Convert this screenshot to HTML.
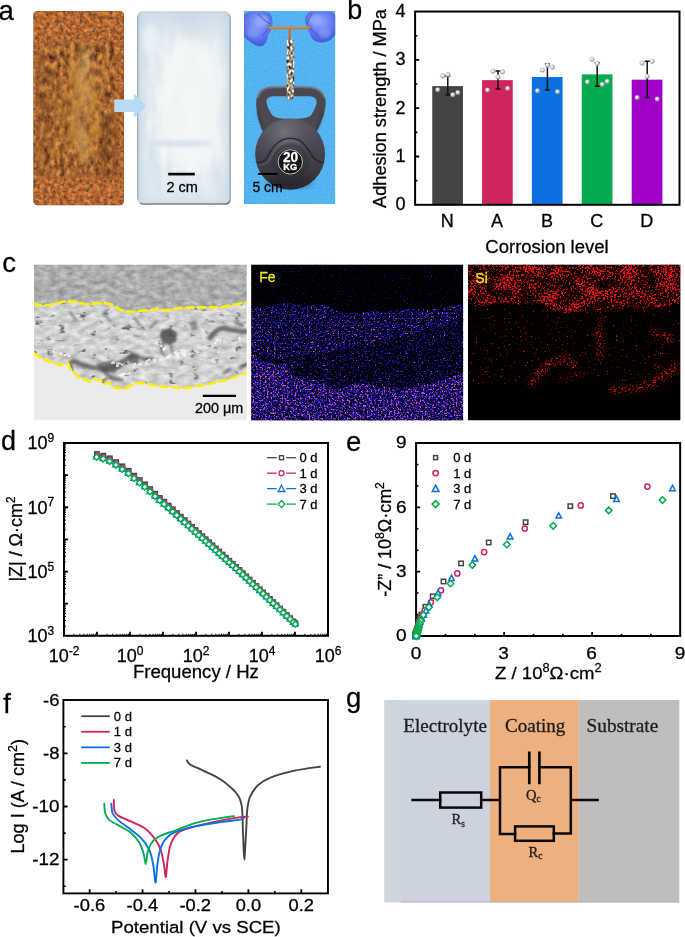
<!DOCTYPE html>
<html><head><meta charset="utf-8"><title>figure</title>
<style>
html,body{margin:0;padding:0;background:#fff;}
body{width:685px;height:937px;overflow:hidden;font-family:"Liberation Sans",sans-serif;}
svg{display:block;font-family:"Liberation Sans",sans-serif;}
svg text{stroke-width:0.28px;}
svg text:not([fill]){stroke:#000;}
</style></head><body>
<svg width="685" height="937" viewBox="0 0 685 937" style="opacity:0.999">
<defs>
<filter id="rustE" x="0" y="0" width="1" height="1" color-interpolation-filters="sRGB">
<feTurbulence type="fractalNoise" baseFrequency="0.25" numOctaves="3" seed="3" result="n1"/>
<feColorMatrix in="n1" type="matrix" values="0.55 0 0 0 0.46  0.50 0 0 0 0.17  0.30 0 0 0 0.045  0 0 0 0 1" result="c1"/>
<feTurbulence type="fractalNoise" baseFrequency="0.30" numOctaves="2" seed="8" result="n2"/>
<feColorMatrix in="n2" type="matrix" values="0 0 0 0 0.36  0 0 0 0 0.30  0 0 0 0 0.26  0 6 0 0 -3.42" result="spk"/>
<feComposite in="spk" in2="c1" operator="over" result="m"/>
<feComposite in="m" in2="SourceGraphic" operator="in"/>
</filter>
<filter id="rustI" x="-0.1" y="-0.1" width="1.2" height="1.2" color-interpolation-filters="sRGB">
<feTurbulence type="fractalNoise" baseFrequency="0.2 0.13" numOctaves="5" seed="5" result="n1"/>
<feColorMatrix in="n1" type="matrix" values="0.95 0 0 0 0.15  0.74 0 0 0 0.015  0.32 0 0 0 0.035  0 0 0 0 1" result="c1"/>
<feTurbulence type="fractalNoise" baseFrequency="0.09 0.05" numOctaves="3" seed="31" result="n2"/>
<feColorMatrix in="n2" type="matrix" values="0 0 0 0 0.78  0 0 0 0 0.52  0 0 0 0 0.20  3 0 0 0 -1.68" result="y1"/>
<feColorMatrix in="n2" type="matrix" values="0 0 0 0 0.45  0 0 0 0 0.27  0 0 0 0 0.13  0 3 0 0 -1.78" result="d1"/>
<feMerge result="mm"><feMergeNode in="c1"/><feMergeNode in="y1"/><feMergeNode in="d1"/></feMerge>
<feGaussianBlur in="SourceAlpha" stdDeviation="2.2" result="sa"/>
<feComposite in="mm" in2="sa" operator="in"/>
</filter>
<filter id="b3"><feGaussianBlur stdDeviation="3"/></filter>
<filter id="b6"><feGaussianBlur stdDeviation="6"/></filter>
<filter id="b2"><feGaussianBlur stdDeviation="2"/></filter>
<filter id="b1"><feGaussianBlur stdDeviation="1"/></filter>
<filter id="b05"><feGaussianBlur stdDeviation="0.5"/></filter>
<filter id="cloud" x="0" y="0" width="1" height="1" color-interpolation-filters="sRGB">
<feTurbulence type="fractalNoise" baseFrequency="0.08 0.022" numOctaves="4" seed="11" result="n1"/>
<feColorMatrix in="n1" type="matrix" values="0.34 0 0 0 0.75  0.25 0 0 0 0.82  0.16 0 0 0 0.875  0 0 0 0 1" result="c1"/>
<feComposite in="c1" in2="SourceGraphic" operator="in"/>
</filter>
<filter id="bgn" x="0" y="0" width="1" height="1" color-interpolation-filters="sRGB">
<feTurbulence type="fractalNoise" baseFrequency="0.7" numOctaves="1" seed="5" result="n1"/>
<feColorMatrix in="n1" type="matrix" values="0.16 0 0 0 0.25  0.12 0 0 0 0.645  0.07 0 0 0 0.905  0 0 0 0 1" result="c1"/>
<feComposite in="c1" in2="SourceGraphic" operator="in"/>
</filter>
<filter id="chn" x="0" y="0" width="1" height="1" color-interpolation-filters="sRGB">
<feTurbulence type="fractalNoise" baseFrequency="0.45 0.3" numOctaves="1" seed="2" result="n1"/>
<feColorMatrix in="n1" type="matrix" values="2.2 0 0 0 -0.45  2.15 0 0 0 -0.46  2.0 0 0 0 -0.45  0 0 0 0 1" result="c1"/>
<feComposite in="c1" in2="SourceGraphic" operator="in"/>
</filter>
<clipPath id="cpr"><rect x="33.4" y="11" width="90.6" height="194.2" rx="4.2"/></clipPath>
<clipPath id="cpw"><rect x="137.5" y="11.6" width="92" height="191.6" rx="4.6"/></clipPath>
<clipPath id="cpk"><rect x="244" y="11" width="91.2" height="193"/></clipPath>
<linearGradient id="kb" x1="0" y1="0" x2="0" y2="1"><stop offset="0" stop-color="#56525e"/><stop offset="0.4" stop-color="#494553"/><stop offset="0.75" stop-color="#3b3842"/><stop offset="1" stop-color="#2b2930"/></linearGradient>
<radialGradient id="kbh" cx="0.42" cy="0.2" r="0.5"><stop offset="0" stop-color="#7b7884" stop-opacity="0.85"/><stop offset="1" stop-color="#55525b" stop-opacity="0"/></radialGradient>
<radialGradient id="glv" cx="0.5" cy="0.35" r="0.65"><stop offset="0" stop-color="#8fa4fb"/><stop offset="0.55" stop-color="#647df0"/><stop offset="1" stop-color="#4258d8"/></radialGradient>
<linearGradient id="wpl" x1="0" y1="0" x2="0" y2="1"><stop offset="0" stop-color="#c6d5e4" stop-opacity="0.95"/><stop offset="0.17" stop-color="#dde7ef" stop-opacity="0.5"/><stop offset="0.45" stop-color="#f2f5f6" stop-opacity="0"/><stop offset="0.8" stop-color="#dfe9f0" stop-opacity="0.3"/><stop offset="1" stop-color="#d3e1ec" stop-opacity="0.9"/></linearGradient>
<linearGradient id="wpl2" x1="0" y1="0" x2="1" y2="0"><stop offset="0" stop-color="#c2d2e3" stop-opacity="0.85"/><stop offset="0.14" stop-color="#d8e3ec" stop-opacity="0.25"/><stop offset="0.5" stop-color="#fff" stop-opacity="0"/><stop offset="0.88" stop-color="#d8e3ec" stop-opacity="0.25"/><stop offset="1" stop-color="#c6d6e4" stop-opacity="0.8"/></linearGradient>
<radialGradient id="sph" cx="0.38" cy="0.35" r="0.7"><stop offset="0" stop-color="#ffffff"/><stop offset="0.45" stop-color="#dcdcdc"/><stop offset="1" stop-color="#8c8c8c"/></radialGradient>
<filter id="semtop" x="0" y="0" width="1" height="1" color-interpolation-filters="sRGB">
<feTurbulence type="fractalNoise" baseFrequency="0.12 0.2" numOctaves="3" seed="4" result="n"/>
<feColorMatrix in="n" type="matrix" values="0.36 0 0 0 0.50  0.36 0 0 0 0.50  0.36 0 0 0 0.50  0 0 0 0 1" result="c"/>
<feComposite in="c" in2="SourceGraphic" operator="in"/></filter>
<filter id="semmid" x="0" y="0" width="1" height="1" color-interpolation-filters="sRGB">
<feTurbulence type="fractalNoise" baseFrequency="0.1 0.2" numOctaves="4" seed="9" result="n"/>
<feColorMatrix in="n" type="matrix" values="0.34 0 0 0 0.65  0.34 0 0 0 0.65  0.34 0 0 0 0.65  0 0 0 0 1" result="c"/>
<feComposite in="c" in2="SourceGraphic" operator="in"/></filter>
<filter id="semdark" x="0" y="0" width="1" height="1" color-interpolation-filters="sRGB">
<feTurbulence type="fractalNoise" baseFrequency="0.09 0.16" numOctaves="3" seed="17" result="n"/>
<feColorMatrix in="n" type="matrix" values="0 0 0 0 0.42  0 0 0 0 0.42  0 0 0 0 0.42  6 0 0 0 -3.95" result="c"/>
<feComposite in="c" in2="SourceGraphic" operator="in"/></filter>
<clipPath id="csem"><rect x="34" y="264.6" width="212.8" height="155.9"/></clipPath>
<clipPath id="cmid"><polygon points="34,303.3 40.2,305.4 50.3,304.8 65.3,301.3 75.4,301.6 85.4,304.3 103,302.8 110.6,304.1 120.6,309.9 130.7,311.9 144.5,310.4 152.6,310.2 157.8,308.2 164.8,310.4 177.7,308.4 190.3,307.4 220.4,307.4 233,304.8 246.8,302.6 246.8,372.9 238,375.8 225.4,380.3 202.8,385.3 185.2,388.3 172,387.3 160.8,386.6 148.2,384 137,382.8 124.4,389.1 113,387.3 109.3,382.8 103,384 100.5,380.3 93,379 89.2,381.6 77.9,376.5 70.4,369 67.8,363.2 60.3,365.2 45.2,360.2 34,353.4"/></clipPath>
<filter id="fe0" x="0" y="0" width="1" height="1" color-interpolation-filters="sRGB"><feTurbulence type="fractalNoise" baseFrequency="0.55" numOctaves="2" seed="2" result="n"/><feColorMatrix in="n" type="matrix" values="0 0 0 0 0.11  0 0 0 0 0.09  0 0 0 0 0.80  7 0 0 0 -4.79" result="bl"/><feColorMatrix in="n" type="matrix" values="0 0 0 0 0.80  0 0 0 0 0.30  0 0 0 0 0.78  0 8 0 0 -6.56" result="pk"/><feMerge result="m"><feMergeNode in="bl"/><feMergeNode in="pk"/></feMerge><feComposite in="m" in2="SourceGraphic" operator="in"/></filter>
<filter id="fe1" x="0" y="0" width="1" height="1" color-interpolation-filters="sRGB"><feTurbulence type="fractalNoise" baseFrequency="0.55" numOctaves="2" seed="3" result="n"/><feColorMatrix in="n" type="matrix" values="0 0 0 0 0.11  0 0 0 0 0.09  0 0 0 0 0.80  5 0 0 0 -2.42" result="bl"/><feColorMatrix in="n" type="matrix" values="0 0 0 0 0.80  0 0 0 0 0.30  0 0 0 0 0.78  0 8 0 0 -5.12" result="pk"/><feMerge result="m"><feMergeNode in="bl"/><feMergeNode in="pk"/></feMerge><feComposite in="m" in2="SourceGraphic" operator="in"/></filter>
<filter id="fe2" x="0" y="0" width="1" height="1" color-interpolation-filters="sRGB"><feTurbulence type="fractalNoise" baseFrequency="0.55" numOctaves="2" seed="5" result="n"/><feColorMatrix in="n" type="matrix" values="0 0 0 0 0.11  0 0 0 0 0.09  0 0 0 0 0.80  5 0 0 0 -2.7" result="bl"/><feColorMatrix in="n" type="matrix" values="0 0 0 0 0.80  0 0 0 0 0.30  0 0 0 0 0.78  0 8 0 0 -5.6" result="pk"/><feMerge result="m"><feMergeNode in="bl"/><feMergeNode in="pk"/></feMerge><feComposite in="m" in2="SourceGraphic" operator="in"/></filter>
<filter id="fe3" x="0" y="0" width="1" height="1" color-interpolation-filters="sRGB"><feTurbulence type="fractalNoise" baseFrequency="0.55" numOctaves="2" seed="7" result="n"/><feColorMatrix in="n" type="matrix" values="0 0 0 0 0.11  0 0 0 0 0.09  0 0 0 0 0.80  5 0 0 0 -2.15" result="bl"/><feColorMatrix in="n" type="matrix" values="0 0 0 0 0.80  0 0 0 0 0.30  0 0 0 0 0.78  0 7 0 0 -3.85" result="pk"/><feMerge result="m"><feMergeNode in="bl"/><feMergeNode in="pk"/></feMerge><feComposite in="m" in2="SourceGraphic" operator="in"/></filter>
<clipPath id="cfe"><rect x="251.1" y="264.4" width="212.2" height="156.1"/></clipPath>
<filter id="si0" x="0" y="0" width="1" height="1" color-interpolation-filters="sRGB"><feTurbulence type="fractalNoise" baseFrequency="0.55" numOctaves="2" seed="12" result="n"/><feTurbulence type="fractalNoise" baseFrequency="0.05 0.09" numOctaves="2" seed="52" result="lo"/><feColorMatrix in="n" type="matrix" values="1 0 0 0 0  0 0 0 0 0  0 0 0 0 0  0 0 0 0 1" result="na"/><feColorMatrix in="lo" type="matrix" values="1 0 0 0 0  0 0 0 0 0  0 0 0 0 0  0 0 0 0 1" result="loa"/><feComposite in="na" in2="loa" operator="arithmetic" k1="0" k2="1" k3="0.42" k4="-0.21" result="n2"/><feColorMatrix in="n2" type="matrix" values="0 0 0 0 0.92  0 0 0 0 0.06  0 0 0 0 0.07  7 0 0 0 -3.57" result="r"/><feComposite in="r" in2="SourceGraphic" operator="in"/></filter>
<filter id="si1" x="0" y="0" width="1" height="1" color-interpolation-filters="sRGB"><feTurbulence type="fractalNoise" baseFrequency="0.55" numOctaves="2" seed="14" result="n"/><feColorMatrix in="n" type="matrix" values="0 0 0 0 0.92  0 0 0 0 0.06  0 0 0 0 0.07  10 0 0 0 -7.05" result="r"/><feComposite in="r" in2="SourceGraphic" operator="in"/></filter>
<filter id="si2" x="0" y="0" width="1" height="1" color-interpolation-filters="sRGB"><feTurbulence type="fractalNoise" baseFrequency="0.55" numOctaves="2" seed="19" result="n"/><feColorMatrix in="n" type="matrix" values="0 0 0 0 0.92  0 0 0 0 0.06  0 0 0 0 0.07  11 0 0 0 -5.89" result="r"/><feComposite in="r" in2="SourceGraphic" operator="in"/></filter>
<clipPath id="csi"><rect x="467.8" y="264.4" width="212.8" height="156.1"/></clipPath>
<mask id="msi"><rect x="460" y="260" width="230" height="170" fill="#000"/><g filter="url(#b2)" fill="none" stroke="#fff" stroke-linecap="round">
<path d="M531 383C538 370 552 359 566 359L573 366" stroke-width="7"/><path d="M599 331C600 342 601 350 600 357" stroke-width="6"/>
<path d="M612 390C628 392 650 386 662 378C668 374 672 370 675 366" stroke-width="6.5"/><path d="M654 332C660 333 666 336 672 340" stroke-width="7"/>
<path d="M655 366L664 374" stroke-width="4"/><path d="M600 312V326" stroke-width="4"/><path d="M560 378L590 372" stroke-width="3" opacity="0.6"/></g></mask>
</defs>
<g id="pa">
<text x="-1.4" y="19.8" font-size="27.5">a</text>
<rect x="33.4" y="11" width="90.6" height="194.2" rx="4.2" fill="#b87034" filter="url(#rustE)"/>
<g clip-path="url(#cpr)">
<rect x="38.2" y="42" width="78.6" height="135" fill="#a2662c" filter="url(#rustI)"/>
<ellipse cx="80" cy="112" rx="17" ry="54" fill="#c48432" opacity="0.38" filter="url(#b6)"/>
<ellipse cx="86" cy="80" rx="8" ry="28" fill="#d8b070" opacity="0.25" filter="url(#b3)"/>
<rect x="100" y="112" width="18" height="66" fill="#6a3e1e" opacity="0.30" filter="url(#b3)"/>
<rect x="37" y="60" width="14" height="110" fill="#7e4820" opacity="0.25" filter="url(#b3)"/>
<g filter="url(#b2)" fill="none" stroke-linecap="round">
<path d="M84 46L80 75L86 100L82 130L86 165" stroke="#d2b27c" stroke-width="5" opacity="0.28"/>
<path d="M92 50L84 72" stroke="#e0d0b0" stroke-width="3" opacity="0.35"/>
<path d="M70 60L80 90L74 120L78 150" stroke="#c99648" stroke-width="8" opacity="0.4"/>
<path d="M98 70L92 100L100 118L90 140" stroke="#c99040" stroke-width="7" opacity="0.4"/>
<path d="M52 150L60 120L54 90" stroke="#b87a34" stroke-width="8" opacity="0.35"/>
<path d="M80 125L86 150" stroke="#d8c090" stroke-width="4" opacity="0.3"/>
</g>
<rect x="33.4" y="11" width="90.6" height="194.2" rx="4.2" fill="none" stroke="#7a4a26" stroke-width="1.2" opacity="0.45"/>
</g>
<rect x="138.4" y="12.8" width="92.2" height="192" rx="4.8" fill="#55595f" opacity="0.8" filter="url(#b05)"/>
<rect x="137.5" y="11.6" width="92" height="191.6" rx="4.6" fill="#e3ebf0" filter="url(#cloud)"/>
<g clip-path="url(#cpw)">
<rect x="137.5" y="11.6" width="92" height="191.6" fill="url(#wpl)"/>
<rect x="137.5" y="11.6" width="92" height="191.6" fill="url(#wpl2)"/>
<ellipse cx="190" cy="105" rx="32" ry="66" fill="#f4f7f7" opacity="0.85" filter="url(#b6)"/>
<ellipse cx="182" cy="143.5" rx="30" ry="3" fill="#bccadb" opacity="0.55" filter="url(#b2)"/>
<ellipse cx="150" cy="40" rx="8" ry="14" fill="#f2f6f8" opacity="0.6" filter="url(#b3)"/>
<rect x="137.5" y="11.6" width="92" height="191.6" rx="4.6" fill="none" stroke="#aab6c2" stroke-width="1" opacity="0.7"/>
</g>
<line x1="137.7" y1="15.5" x2="137.7" y2="199.5" stroke="#6e757d" stroke-width="0.9" opacity="0.65"/>
<path d="M114.3 99.5H133.8V93.6L146.6 105.7L133.8 117.8V111.9H114.3Z" fill="#b7dbf5"/>
<line x1="168.2" y1="174.1" x2="194.8" y2="174.1" stroke="#000" stroke-width="2.7"/>
<text x="182.2" y="192.2" font-size="14.5" text-anchor="middle">2 cm</text>
<rect x="244" y="11" width="91.2" height="193" fill="#58b3ec" filter="url(#bgn)"/>
<g clip-path="url(#cpk)">
<path d="M243 17 C245 13 249 11.5 254 11.3 L266 11.5 C270.5 12.5 272.8 17 272.3 22 C273 27 271 31 268.5 34 C267.5 39 265.5 44 262.5 46 C258 47.5 252 44 248 40 C245 38.5 243.5 36 243 34Z" fill="url(#glv)" filter="url(#b05)"/>
<path d="M336 16 C334 13 331 11.5 327 11.3 L312 11.5 C307 12.5 304.6 17 305.4 21 C305.6 26 307.5 30 309.6 32.5 C310.5 37 313 40.5 317 41.8 C322 43.5 329 42 333 37.5 L336 34Z" fill="url(#glv)" filter="url(#b05)"/>
<ellipse cx="262" cy="21" rx="6.5" ry="5.5" fill="#96abfc" opacity="0.75" filter="url(#b1)"/>
<ellipse cx="253" cy="33" rx="6" ry="5" fill="#8aa0fa" opacity="0.55" filter="url(#b1)"/>
<ellipse cx="315" cy="20" rx="6.5" ry="5.5" fill="#96abfc" opacity="0.75" filter="url(#b1)"/>
<ellipse cx="325" cy="33" rx="6" ry="5" fill="#8aa0fa" opacity="0.5" filter="url(#b1)"/>
<path d="M258 14 C262 18 266 22 270 24 M262 36 C266 32 268 28 270 26 M312 14 C310 18 308 21 307 24 M320 38 C316 34 312 30 309 27" fill="none" stroke="#3346c4" stroke-width="1.1" opacity="0.55" filter="url(#b05)"/>
<path d="M268.9 27.9H309.1M289.7 28V39" fill="none" stroke="#b97a42" stroke-width="2.7" stroke-linecap="round"/>
<path d="M269.5 27.2H308.5" fill="none" stroke="#dca468" stroke-width="0.8"/>
<rect x="286.6" y="39.4" width="7.6" height="60" rx="2" fill="#cfc2a6" filter="url(#chn)"/>
<path fill-rule="evenodd" d="M263.4 133 C258 120 255.6 110 256.3 101 C256.8 94 261 88.5 268 87.2 C275 86.3 283 86.4 290.5 86.4 C298 86.4 305 86.3 311.5 87.2 C319 88.6 324.5 93 325.6 100 C326.4 108 323 119 317 131Z M272.8 115.8 C276 118.2 282 118.9 291.5 118.9 C301 118.9 307 118.2 310.7 115.8 C314.5 110 317 104.5 316.6 101 C316 97.5 313 96.3 308 96.2 L274 96.2 C269.5 96.3 266.8 97.8 266.5 101 C266.3 105 269 110.5 272.8 115.8Z" fill="#4b4851"/>
<path d="M257.5 98 C259 91 264 88 270 87.4 C277 86.8 284 86.9 290.5 86.9 C297 86.9 304 86.8 311 87.4 C318 88.5 323 92 324.6 98" fill="none" stroke="#807d88" stroke-width="2.2" opacity="0.75" filter="url(#b05)"/>
<path d="M258 112 C259 118 261 124 264 130 M322.5 112 C321.5 118 319.5 124 316.5 130" fill="none" stroke="#2f2d34" stroke-width="2.5" opacity="0.5" filter="url(#b1)"/>
<ellipse cx="290.1" cy="154.1" rx="35.0" ry="35.7" fill="url(#kb)"/>
<ellipse cx="290.1" cy="154.1" rx="35.0" ry="35.7" fill="url(#kbh)"/>
<path d="M257.5 162.6 C261 162.6 265 162 267.5 157 C271 149 276 142.5 283 139.5 C288 137.8 294 137.9 299 140.2 C305 143.5 308.5 150 312 155.5 C315 160 319 162.6 323.5 162.6" fill="none" stroke="#26242a" stroke-width="1.6" opacity="0.8" filter="url(#b05)"/>
<path d="M259 165 C263 165 267.5 164 270 159 C274 151 278.5 145 285 142 C290 140.5 295 141 299.5 143.5" fill="none" stroke="#77747f" stroke-width="1.2" opacity="0.5" filter="url(#b05)"/>
<ellipse cx="290" cy="182" rx="22" ry="6" fill="#222026" opacity="0.5" filter="url(#b3)"/>
<circle cx="290.2" cy="162" r="16.5" fill="none" stroke="#2c2a31" stroke-width="3" opacity="0.55" filter="url(#b1)"/>
<rect x="286.8" y="84" width="7" height="15.6" rx="2" fill="#cfc2a6" filter="url(#chn)"/>
<circle cx="290.3" cy="161.9" r="13.1" fill="#141416"/>
<circle cx="290.3" cy="161.9" r="12.2" fill="none" stroke="#ececec" stroke-width="0.85"/>
<text x="290.5" y="162.3" font-size="14" text-anchor="middle" textLength="15.2" lengthAdjust="spacingAndGlyphs" font-weight="bold" fill="#fff" stroke="#fff">20</text>
<text x="290.3" y="170.2" font-size="8.3" text-anchor="middle" textLength="14" lengthAdjust="spacingAndGlyphs" font-weight="bold" fill="#fff" stroke="#fff">KG</text>
</g>
<line x1="257.9" y1="173.9" x2="277.6" y2="173.9" stroke="#000" stroke-width="2"/>
<text x="252.4" y="191.9" font-size="14">5 cm</text>
</g>
<g id="pb">
<text x="347.2" y="18.9" font-size="27">b</text>
<rect x="432.25" y="86.1" width="30.7" height="118.7" fill="#454344"/>
<rect x="482.05" y="80.15" width="30.7" height="124.65" fill="#d0245c"/>
<rect x="531.85" y="77.01" width="30.7" height="127.79" fill="#0b70e2"/>
<rect x="581.75" y="74.36" width="30.7" height="130.44" fill="#05ab51"/>
<rect x="631.7" y="79.67" width="30.7" height="125.13" fill="#a002c9"/>
<path d="M447.8 76V95M445.3 76h5M445.3 95h5" fill="none" stroke="#111" stroke-width="1.5"/>
<path d="M498 70.9V88.9M495.5 70.9h5M495.5 88.9h5" fill="none" stroke="#111" stroke-width="1.5"/>
<path d="M547.4 64V90M544.9 64h5M544.9 90h5" fill="none" stroke="#111" stroke-width="1.5"/>
<path d="M597.2 62.8V86.2M594.7 62.8h5M594.7 86.2h5" fill="none" stroke="#111" stroke-width="1.5"/>
<path d="M647.2 61.3V97.5M644.7 61.3h5M644.7 97.5h5" fill="none" stroke="#111" stroke-width="1.5"/>
<circle cx="437.7" cy="89.7" r="2.3" fill="url(#sph)" stroke="#9a9a9a" stroke-width="0.4"/>
<circle cx="442.7" cy="75.9" r="2.3" fill="url(#sph)" stroke="#9a9a9a" stroke-width="0.4"/>
<circle cx="448" cy="74.6" r="2.3" fill="url(#sph)" stroke="#9a9a9a" stroke-width="0.4"/>
<circle cx="452.8" cy="94.7" r="2.3" fill="url(#sph)" stroke="#9a9a9a" stroke-width="0.4"/>
<circle cx="457.8" cy="92.5" r="2.3" fill="url(#sph)" stroke="#9a9a9a" stroke-width="0.4"/>
<circle cx="487.5" cy="90" r="2.3" fill="url(#sph)" stroke="#9a9a9a" stroke-width="0.4"/>
<circle cx="493" cy="71.1" r="2.3" fill="url(#sph)" stroke="#9a9a9a" stroke-width="0.4"/>
<circle cx="498" cy="76.9" r="2.3" fill="url(#sph)" stroke="#9a9a9a" stroke-width="0.4"/>
<circle cx="502.5" cy="71.9" r="2.3" fill="url(#sph)" stroke="#9a9a9a" stroke-width="0.4"/>
<circle cx="507.6" cy="88.4" r="2.3" fill="url(#sph)" stroke="#9a9a9a" stroke-width="0.4"/>
<circle cx="537.4" cy="90.7" r="2.3" fill="url(#sph)" stroke="#9a9a9a" stroke-width="0.4"/>
<circle cx="542.4" cy="70.1" r="2.3" fill="url(#sph)" stroke="#9a9a9a" stroke-width="0.4"/>
<circle cx="547.4" cy="65.3" r="2.3" fill="url(#sph)" stroke="#9a9a9a" stroke-width="0.4"/>
<circle cx="552.4" cy="67.1" r="2.3" fill="url(#sph)" stroke="#9a9a9a" stroke-width="0.4"/>
<circle cx="557.5" cy="91.7" r="2.3" fill="url(#sph)" stroke="#9a9a9a" stroke-width="0.4"/>
<circle cx="587.4" cy="81.9" r="2.3" fill="url(#sph)" stroke="#9a9a9a" stroke-width="0.4"/>
<circle cx="592.1" cy="59.3" r="2.3" fill="url(#sph)" stroke="#9a9a9a" stroke-width="0.4"/>
<circle cx="597.2" cy="63.6" r="2.3" fill="url(#sph)" stroke="#9a9a9a" stroke-width="0.4"/>
<circle cx="602.2" cy="84.4" r="2.3" fill="url(#sph)" stroke="#9a9a9a" stroke-width="0.4"/>
<circle cx="607.2" cy="81.4" r="2.3" fill="url(#sph)" stroke="#9a9a9a" stroke-width="0.4"/>
<circle cx="637.1" cy="97.5" r="2.3" fill="url(#sph)" stroke="#9a9a9a" stroke-width="0.4"/>
<circle cx="642.1" cy="63.1" r="2.3" fill="url(#sph)" stroke="#9a9a9a" stroke-width="0.4"/>
<circle cx="647.2" cy="76.4" r="2.3" fill="url(#sph)" stroke="#9a9a9a" stroke-width="0.4"/>
<circle cx="652.2" cy="61.3" r="2.3" fill="url(#sph)" stroke="#9a9a9a" stroke-width="0.4"/>
<circle cx="657.2" cy="99" r="2.3" fill="url(#sph)" stroke="#9a9a9a" stroke-width="0.4"/>
<rect x="415.1" y="11.55" width="264.4" height="193.25" fill="none" stroke="#000" stroke-width="2"/>
<path d="M415.1 156.49 l4.1 0M415.1 108.18 l4.1 0M415.1 59.86 l4.1 0" fill="none" stroke="#000" stroke-width="1.8"/>
<path d="M415.1 180.64 l2.3 0M415.1 132.33 l2.3 0M415.1 84.02 l2.3 0M415.1 35.71 l2.3 0" fill="none" stroke="#000" stroke-width="1.6"/>
<text x="405.4" y="210.4" font-size="18" text-anchor="end">0</text>
<text x="405.4" y="162.09" font-size="18" text-anchor="end">1</text>
<text x="405.4" y="113.78" font-size="18" text-anchor="end">2</text>
<text x="405.4" y="65.46" font-size="18" text-anchor="end">3</text>
<text x="405.4" y="17.15" font-size="18" text-anchor="end">4</text>
<text x="447.3" y="226.7" font-size="18" text-anchor="middle">N</text>
<text x="497.1" y="226.7" font-size="18" text-anchor="middle">A</text>
<text x="546.9" y="226.7" font-size="18" text-anchor="middle">B</text>
<text x="596.8" y="226.7" font-size="18" text-anchor="middle">C</text>
<text x="646.75" y="226.7" font-size="18" text-anchor="middle">D</text>
<text x="547" y="252.9" font-size="18.6" text-anchor="middle" textLength="123.3" lengthAdjust="spacingAndGlyphs">Corrosion level</text>
<text transform="translate(386.3 108.5) rotate(-90)" font-size="18.7" text-anchor="middle" textLength="198.8" lengthAdjust="spacingAndGlyphs">Adhesion strength / MPa</text>
</g>
<g id="pc">
<text x="2.2" y="272.2" font-size="27.5">c</text>
<g clip-path="url(#csem)">
<rect x="34" y="264.6" width="212.8" height="155.9" fill="#ebebeb"/>
<polygon points="34,303.3 40.2,305.4 50.3,304.8 65.3,301.3 75.4,301.6 85.4,304.3 103,302.8 110.6,304.1 120.6,309.9 130.7,311.9 144.5,310.4 152.6,310.2 157.8,308.2 164.8,310.4 177.7,308.4 190.3,307.4 220.4,307.4 233,304.8 246.8,302.6 246.8,264.6 34,264.6" fill="#a6a6a6" filter="url(#semtop)"/>
<g clip-path="url(#cmid)">
<rect x="34" y="296" width="212.8" height="96" fill="#d0d0d0" filter="url(#semmid)"/>
<rect x="34" y="296" width="212.8" height="96" fill="#555" filter="url(#semdark)"/>
<g filter="url(#b1)" fill="#505050" stroke="#505050" stroke-linecap="round" stroke-linejoin="round">
<path d="M162 331L170 329L176 333L175 341L170 344L163 342L161 336Z" stroke-width="2" opacity="0.85"/>
<path d="M163 344L161 352L165 356M171 346L172 352" fill="none" stroke-width="2.4" opacity="0.6"/>
<path d="M73 361C84 366 98 370 110 368C118 366 124 360 130 357" fill="none" stroke-width="5" opacity="0.75"/>
<path d="M98 364L112 362L122 366L114 372L102 371Z" stroke-width="2" opacity="0.7"/>
<path d="M130 357C138 354 144 362 152 358" fill="none" stroke-width="4" opacity="0.6"/>
<path d="M131 353L138 356L137 364L130 362Z" stroke-width="2" opacity="0.7"/>
<path d="M104 372L112 378L122 380" fill="none" stroke-width="3.5" opacity="0.65"/>
<path d="M210 338C214 332 219 328 224 328C232 330 240 333 247 331" fill="none" stroke-width="5" opacity="0.75"/>
<path d="M236 322L242 325" fill="none" stroke-width="4" opacity="0.6"/>
<path d="M190 322L196 321L197 329L192 330Z" stroke-width="1.5" opacity="0.55"/>
<path d="M224 373L230 369M240 368L247 364" fill="none" stroke-width="3.5" opacity="0.6"/>
<path d="M70 312L76 320M104 314L110 321M134 318L140 325M150 328L156 322" fill="none" stroke-width="2.6" opacity="0.55"/>
<path d="M70 362L72 371" fill="none" stroke-width="3" opacity="0.7"/>
</g>
<g fill="#f9f9f9" opacity="0.9"><circle cx="141.29" cy="364.01" r="0.76"/><circle cx="149.15" cy="359.94" r="1.11"/><circle cx="132.97" cy="363.98" r="0.77"/><circle cx="147.32" cy="361.1" r="0.88"/><circle cx="154.5" cy="361.29" r="1.02"/><circle cx="162.4" cy="359.62" r="0.93"/><circle cx="135.23" cy="364.08" r="1.35"/><circle cx="138.29" cy="365.11" r="1"/><circle cx="148.33" cy="359.86" r="0.86"/><circle cx="154.16" cy="359.81" r="1.17"/><circle cx="146.15" cy="363.55" r="1.26"/><circle cx="140.35" cy="364.15" r="1.4"/><circle cx="155.22" cy="362.09" r="0.79"/><circle cx="146.83" cy="361.26" r="1.09"/><circle cx="133.97" cy="366.74" r="1.16"/><circle cx="160.15" cy="359.78" r="1.18"/><circle cx="185.16" cy="354.45" r="1.46"/><circle cx="182.12" cy="352.8" r="1.26"/><circle cx="189.23" cy="353.85" r="0.93"/><circle cx="179.04" cy="353.39" r="1.07"/><circle cx="169.66" cy="355.24" r="1.31"/><circle cx="168.72" cy="356.62" r="1.4"/><circle cx="167.66" cy="357.51" r="1.41"/><circle cx="194.84" cy="350.74" r="1.03"/><circle cx="178.79" cy="356.59" r="0.82"/><circle cx="170.31" cy="355.74" r="1.09"/><circle cx="184.86" cy="351.7" r="1.04"/><circle cx="178.14" cy="356.5" r="1.25"/><circle cx="183.42" cy="354.44" r="0.74"/><circle cx="197.38" cy="352" r="1.34"/><circle cx="118.74" cy="363.52" r="1.21"/><circle cx="111.74" cy="363.19" r="0.83"/><circle cx="116.69" cy="363.08" r="0.82"/><circle cx="113.39" cy="362.68" r="1.4"/><circle cx="121.93" cy="364.44" r="0.98"/><circle cx="117.35" cy="365.84" r="1.49"/><circle cx="120.34" cy="363.61" r="0.78"/><circle cx="117.41" cy="365.74" r="0.83"/><circle cx="119.38" cy="375.02" r="0.82"/><circle cx="123.93" cy="373.98" r="1.48"/><circle cx="129.69" cy="372.7" r="0.99"/><circle cx="120.82" cy="374.74" r="1.32"/><circle cx="121.62" cy="375.09" r="1.49"/><circle cx="176.99" cy="353.52" r="1.29"/><circle cx="165.71" cy="347.72" r="0.72"/><circle cx="161.48" cy="346.11" r="1.25"/><circle cx="177.07" cy="354.66" r="1.49"/><circle cx="176.68" cy="351.5" r="0.88"/><circle cx="163.85" cy="348.73" r="1.42"/><circle cx="175.36" cy="352.72" r="1.34"/><circle cx="164.06" cy="349.31" r="1.33"/><circle cx="68.95" cy="355.73" r="1.33"/><circle cx="64.71" cy="355.13" r="1.02"/><circle cx="65.89" cy="354.95" r="0.84"/><circle cx="60.69" cy="353.73" r="1.35"/><circle cx="215.36" cy="342.86" r="1.23"/><circle cx="220.66" cy="339.49" r="0.71"/><circle cx="239.58" cy="338.2" r="1.45"/><circle cx="224.13" cy="341.24" r="0.87"/><circle cx="216.93" cy="340.21" r="1.17"/><circle cx="217.54" cy="339.86" r="1.43"/><circle cx="220.49" cy="340.83" r="1.42"/></g>
<path d="M190 312L226 311" fill="none" stroke="#f8f8f8" stroke-width="1.3" opacity="0.4"/>
</g>
<polyline points="34,303.3 40.2,305.4 50.3,304.8 65.3,301.3 75.4,301.6 85.4,304.3 103,302.8 110.6,304.1 120.6,309.9 130.7,311.9 144.5,310.4 152.6,310.2 157.8,308.2 164.8,310.4 177.7,308.4 190.3,307.4 220.4,307.4 233,304.8 246.8,302.6" fill="none" stroke="#fdf005" stroke-width="2.6" stroke-dasharray="7.4 4.6" stroke-linecap="round" stroke-linejoin="round"/>
<polyline points="34,353.4 45.2,360.2 60.3,365.2 67.8,363.2 70.4,369 77.9,376.5 89.2,381.6 93,379 100.5,380.3 103,384 109.3,382.8 113,387.3 124.4,389.1 137,382.8 148.2,384 160.8,386.6 172,387.3 185.2,388.3 202.8,385.3 225.4,380.3 238,375.8 246.8,372.9" fill="none" stroke="#fdf005" stroke-width="2.6" stroke-dasharray="7.4 4.6" stroke-linecap="round" stroke-linejoin="round"/>
</g>
<line x1="202.8" y1="395.9" x2="236" y2="395.9" stroke="#000" stroke-width="2.4"/>
<text x="219.2" y="413.2" font-size="14.4" text-anchor="middle">200 μm</text>
<g clip-path="url(#cfe)">
<rect x="251.1" y="264.4" width="212.2" height="156.1" fill="#010104"/>
<rect x="251.1" y="264.4" width="212.2" height="44" fill="#000" filter="url(#fe0)"/>
<polygon points="251.1,304.8 257.3,306.9 267.4,306.3 282.4,302.8 292.5,303.1 302.5,305.8 320.1,304.3 327.7,305.6 337.7,311.4 347.8,313.4 361.6,311.9 369.7,311.7 374.9,309.7 381.9,311.9 394.8,309.9 407.4,308.9 437.5,308.9 450.1,306.3 463.9,304.1 463.9,322 447.1,326 427.1,331 407.1,336 385.1,340 357.1,346 330.1,352 307.1,355 281.1,358 267.1,357 251.1,351" fill="#000" filter="url(#fe1)"/>
<polygon points="251.1,351 267.1,357 281.1,358 307.1,355 330.1,352 357.1,346 385.1,340 407.1,336 427.1,331 447.1,326 463.9,322 463.9,372.9 455.1,375.8 442.5,380.3 419.9,385.3 402.3,388.3 389.1,387.3 377.9,386.6 365.3,384 354.1,382.8 341.5,389.1 330.1,387.3 326.4,382.8 320.1,384 317.6,380.3 310.1,379 306.3,381.6 295,376.5 287.5,369 284.9,363.2 277.4,365.2 262.3,360.2 251.1,353.4" fill="#000" filter="url(#fe2)"/>
<polygon points="251.1,353.4 262.3,360.2 277.4,365.2 284.9,363.2 287.5,369 295,376.5 306.3,381.6 310.1,379 317.6,380.3 320.1,384 326.4,382.8 330.1,387.3 341.5,389.1 354.1,382.8 365.3,384 377.9,386.6 389.1,387.3 402.3,388.3 419.9,385.3 442.5,380.3 455.1,375.8 463.9,372.9 463.3,421 251.1,421" fill="#000" filter="url(#fe3)"/>
</g>
<text x="259.3" y="282.3" font-size="14" fill="#f2ea14" stroke="#f2ea14">Fe</text>
<g clip-path="url(#csi)">
<rect x="467.8" y="264.4" width="212.8" height="156.1" fill="#030000"/>
<polygon points="680.6,303.6 666.8,305.8 654.2,308.4 624.1,308.4 611.5,309.4 598.6,311.4 591.6,309.2 586.4,311.2 578.3,311.4 564.5,312.9 554.4,310.9 544.4,305.1 536.8,303.8 519.2,305.3 509.2,302.6 499.1,302.3 484.1,305.8 474,306.4 467.8,304.3 467.8,264.4 680.6,264.4" fill="#000" filter="url(#si0)"/>
<rect x="467.8" y="306" width="212.8" height="78" fill="#000" filter="url(#si1)"/>
<rect x="467.8" y="300" width="212.8" height="110" fill="#000" filter="url(#si2)" mask="url(#msi)"/>
</g>
<text x="475.3" y="282.6" font-size="14" fill="#f2ea14" stroke="#f2ea14">Si</text>
</g>
<g id="pd">
<text x="1" y="450" font-size="27">d</text>
<polyline points="96.9,453.9 103.39,455.67 109.89,458.25 116.18,462.02 122.47,466.29 128.67,470.66 134.26,475.62 139.75,479.98 145.05,484.24 150.24,489 155.24,493.66 159.83,497.91 164.33,501.66 168.62,505.51 172.82,509.26 176.92,512.98 180.89,516.6 184.75,520.11 188.48,523.51 192.1,526.8 195.6,529.98 198.97,533.05 202.35,536.12 205.72,539.19 209.1,542.26 212.48,545.33 215.85,548.41 219.23,551.48 222.61,554.55 225.98,557.62 229.36,560.69 232.74,563.76 236.11,566.83 239.49,569.91 242.87,573.1 246.24,576.32 249.62,579.53 252.99,582.75 256.37,585.97 259.75,589.18 263.12,592.4 266.5,595.62 269.88,598.83 273.25,602.05 276.63,605.27 280.01,608.48 283.38,611.7 286.76,614.92 290.14,618.13 293.51,621.35 295.39,623.14" fill="none" stroke="#454344" stroke-width="1.2"/>
<rect x="94.8" y="451.8" width="4.2" height="4.2" fill="#fff" stroke="#454344" stroke-width="1.5"/><rect x="101.29" y="453.57" width="4.2" height="4.2" fill="#fff" stroke="#454344" stroke-width="1.5"/><rect x="107.79" y="456.15" width="4.2" height="4.2" fill="#fff" stroke="#454344" stroke-width="1.5"/><rect x="114.08" y="459.92" width="4.2" height="4.2" fill="#fff" stroke="#454344" stroke-width="1.5"/><rect x="120.37" y="464.19" width="4.2" height="4.2" fill="#fff" stroke="#454344" stroke-width="1.5"/><rect x="126.57" y="468.56" width="4.2" height="4.2" fill="#fff" stroke="#454344" stroke-width="1.5"/><rect x="132.16" y="473.52" width="4.2" height="4.2" fill="#fff" stroke="#454344" stroke-width="1.5"/><rect x="137.65" y="477.88" width="4.2" height="4.2" fill="#fff" stroke="#454344" stroke-width="1.5"/><rect x="142.95" y="482.14" width="4.2" height="4.2" fill="#fff" stroke="#454344" stroke-width="1.5"/><rect x="148.14" y="486.9" width="4.2" height="4.2" fill="#fff" stroke="#454344" stroke-width="1.5"/><rect x="153.14" y="491.56" width="4.2" height="4.2" fill="#fff" stroke="#454344" stroke-width="1.5"/><rect x="157.73" y="495.81" width="4.2" height="4.2" fill="#fff" stroke="#454344" stroke-width="1.5"/><rect x="162.23" y="499.56" width="4.2" height="4.2" fill="#fff" stroke="#454344" stroke-width="1.5"/><rect x="166.52" y="503.41" width="4.2" height="4.2" fill="#fff" stroke="#454344" stroke-width="1.5"/><rect x="170.72" y="507.16" width="4.2" height="4.2" fill="#fff" stroke="#454344" stroke-width="1.5"/><rect x="174.82" y="510.88" width="4.2" height="4.2" fill="#fff" stroke="#454344" stroke-width="1.5"/><rect x="178.79" y="514.5" width="4.2" height="4.2" fill="#fff" stroke="#454344" stroke-width="1.5"/><rect x="182.65" y="518.01" width="4.2" height="4.2" fill="#fff" stroke="#454344" stroke-width="1.5"/><rect x="186.38" y="521.41" width="4.2" height="4.2" fill="#fff" stroke="#454344" stroke-width="1.5"/><rect x="190" y="524.7" width="4.2" height="4.2" fill="#fff" stroke="#454344" stroke-width="1.5"/><rect x="193.5" y="527.88" width="4.2" height="4.2" fill="#fff" stroke="#454344" stroke-width="1.5"/><rect x="196.87" y="530.95" width="4.2" height="4.2" fill="#fff" stroke="#454344" stroke-width="1.5"/><rect x="200.25" y="534.02" width="4.2" height="4.2" fill="#fff" stroke="#454344" stroke-width="1.5"/><rect x="203.62" y="537.09" width="4.2" height="4.2" fill="#fff" stroke="#454344" stroke-width="1.5"/><rect x="207" y="540.16" width="4.2" height="4.2" fill="#fff" stroke="#454344" stroke-width="1.5"/><rect x="210.38" y="543.23" width="4.2" height="4.2" fill="#fff" stroke="#454344" stroke-width="1.5"/><rect x="213.75" y="546.31" width="4.2" height="4.2" fill="#fff" stroke="#454344" stroke-width="1.5"/><rect x="217.13" y="549.38" width="4.2" height="4.2" fill="#fff" stroke="#454344" stroke-width="1.5"/><rect x="220.51" y="552.45" width="4.2" height="4.2" fill="#fff" stroke="#454344" stroke-width="1.5"/><rect x="223.88" y="555.52" width="4.2" height="4.2" fill="#fff" stroke="#454344" stroke-width="1.5"/><rect x="227.26" y="558.59" width="4.2" height="4.2" fill="#fff" stroke="#454344" stroke-width="1.5"/><rect x="230.64" y="561.66" width="4.2" height="4.2" fill="#fff" stroke="#454344" stroke-width="1.5"/><rect x="234.01" y="564.73" width="4.2" height="4.2" fill="#fff" stroke="#454344" stroke-width="1.5"/><rect x="237.39" y="567.81" width="4.2" height="4.2" fill="#fff" stroke="#454344" stroke-width="1.5"/><rect x="240.77" y="571" width="4.2" height="4.2" fill="#fff" stroke="#454344" stroke-width="1.5"/><rect x="244.14" y="574.22" width="4.2" height="4.2" fill="#fff" stroke="#454344" stroke-width="1.5"/><rect x="247.52" y="577.43" width="4.2" height="4.2" fill="#fff" stroke="#454344" stroke-width="1.5"/><rect x="250.89" y="580.65" width="4.2" height="4.2" fill="#fff" stroke="#454344" stroke-width="1.5"/><rect x="254.27" y="583.87" width="4.2" height="4.2" fill="#fff" stroke="#454344" stroke-width="1.5"/><rect x="257.65" y="587.08" width="4.2" height="4.2" fill="#fff" stroke="#454344" stroke-width="1.5"/><rect x="261.02" y="590.3" width="4.2" height="4.2" fill="#fff" stroke="#454344" stroke-width="1.5"/><rect x="264.4" y="593.52" width="4.2" height="4.2" fill="#fff" stroke="#454344" stroke-width="1.5"/><rect x="267.78" y="596.73" width="4.2" height="4.2" fill="#fff" stroke="#454344" stroke-width="1.5"/><rect x="271.15" y="599.95" width="4.2" height="4.2" fill="#fff" stroke="#454344" stroke-width="1.5"/><rect x="274.53" y="603.17" width="4.2" height="4.2" fill="#fff" stroke="#454344" stroke-width="1.5"/><rect x="277.91" y="606.38" width="4.2" height="4.2" fill="#fff" stroke="#454344" stroke-width="1.5"/><rect x="281.28" y="609.6" width="4.2" height="4.2" fill="#fff" stroke="#454344" stroke-width="1.5"/><rect x="284.66" y="612.82" width="4.2" height="4.2" fill="#fff" stroke="#454344" stroke-width="1.5"/><rect x="288.04" y="616.03" width="4.2" height="4.2" fill="#fff" stroke="#454344" stroke-width="1.5"/><rect x="291.41" y="619.25" width="4.2" height="4.2" fill="#fff" stroke="#454344" stroke-width="1.5"/><rect x="293.29" y="621.04" width="4.2" height="4.2" fill="#fff" stroke="#454344" stroke-width="1.5"/>
<polyline points="97.1,455.4 103.59,457.14 110.08,459.68 116.37,463.42 122.65,467.65 128.84,471.99 134.43,476.92 139.92,481.26 145.22,485.49 150.41,490.22 155.4,494.85 159.99,499.08 164.48,502.8 168.77,506.63 172.97,510.36 177.06,514.06 181.03,517.66 184.89,521.14 188.62,524.52 192.23,527.79 195.73,530.95 199.1,534.01 202.47,537.06 205.85,540.12 209.22,543.17 212.6,546.22 215.97,549.28 219.34,552.33 222.72,555.38 226.09,558.44 229.47,561.49 232.84,564.54 236.21,567.6 239.59,570.65 242.96,573.83 246.34,577.03 249.71,580.22 253.08,583.42 256.46,586.62 259.83,589.82 263.21,593.02 266.58,596.22 269.95,599.42 273.33,602.62 276.7,605.82 280.08,609.02 283.45,612.21 286.83,615.41 290.2,618.61 293.57,621.81 295.45,623.59" fill="none" stroke="#d0245c" stroke-width="1.2"/>
<circle cx="97.1" cy="455.4" r="2.3" fill="#fff" stroke="#d0245c" stroke-width="1.5"/><circle cx="103.59" cy="457.14" r="2.3" fill="#fff" stroke="#d0245c" stroke-width="1.5"/><circle cx="110.08" cy="459.68" r="2.3" fill="#fff" stroke="#d0245c" stroke-width="1.5"/><circle cx="116.37" cy="463.42" r="2.3" fill="#fff" stroke="#d0245c" stroke-width="1.5"/><circle cx="122.65" cy="467.65" r="2.3" fill="#fff" stroke="#d0245c" stroke-width="1.5"/><circle cx="128.84" cy="471.99" r="2.3" fill="#fff" stroke="#d0245c" stroke-width="1.5"/><circle cx="134.43" cy="476.92" r="2.3" fill="#fff" stroke="#d0245c" stroke-width="1.5"/><circle cx="139.92" cy="481.26" r="2.3" fill="#fff" stroke="#d0245c" stroke-width="1.5"/><circle cx="145.22" cy="485.49" r="2.3" fill="#fff" stroke="#d0245c" stroke-width="1.5"/><circle cx="150.41" cy="490.22" r="2.3" fill="#fff" stroke="#d0245c" stroke-width="1.5"/><circle cx="155.4" cy="494.85" r="2.3" fill="#fff" stroke="#d0245c" stroke-width="1.5"/><circle cx="159.99" cy="499.08" r="2.3" fill="#fff" stroke="#d0245c" stroke-width="1.5"/><circle cx="164.48" cy="502.8" r="2.3" fill="#fff" stroke="#d0245c" stroke-width="1.5"/><circle cx="168.77" cy="506.63" r="2.3" fill="#fff" stroke="#d0245c" stroke-width="1.5"/><circle cx="172.97" cy="510.36" r="2.3" fill="#fff" stroke="#d0245c" stroke-width="1.5"/><circle cx="177.06" cy="514.06" r="2.3" fill="#fff" stroke="#d0245c" stroke-width="1.5"/><circle cx="181.03" cy="517.66" r="2.3" fill="#fff" stroke="#d0245c" stroke-width="1.5"/><circle cx="184.89" cy="521.14" r="2.3" fill="#fff" stroke="#d0245c" stroke-width="1.5"/><circle cx="188.62" cy="524.52" r="2.3" fill="#fff" stroke="#d0245c" stroke-width="1.5"/><circle cx="192.23" cy="527.79" r="2.3" fill="#fff" stroke="#d0245c" stroke-width="1.5"/><circle cx="195.73" cy="530.95" r="2.3" fill="#fff" stroke="#d0245c" stroke-width="1.5"/><circle cx="199.1" cy="534.01" r="2.3" fill="#fff" stroke="#d0245c" stroke-width="1.5"/><circle cx="202.47" cy="537.06" r="2.3" fill="#fff" stroke="#d0245c" stroke-width="1.5"/><circle cx="205.85" cy="540.12" r="2.3" fill="#fff" stroke="#d0245c" stroke-width="1.5"/><circle cx="209.22" cy="543.17" r="2.3" fill="#fff" stroke="#d0245c" stroke-width="1.5"/><circle cx="212.6" cy="546.22" r="2.3" fill="#fff" stroke="#d0245c" stroke-width="1.5"/><circle cx="215.97" cy="549.28" r="2.3" fill="#fff" stroke="#d0245c" stroke-width="1.5"/><circle cx="219.34" cy="552.33" r="2.3" fill="#fff" stroke="#d0245c" stroke-width="1.5"/><circle cx="222.72" cy="555.38" r="2.3" fill="#fff" stroke="#d0245c" stroke-width="1.5"/><circle cx="226.09" cy="558.44" r="2.3" fill="#fff" stroke="#d0245c" stroke-width="1.5"/><circle cx="229.47" cy="561.49" r="2.3" fill="#fff" stroke="#d0245c" stroke-width="1.5"/><circle cx="232.84" cy="564.54" r="2.3" fill="#fff" stroke="#d0245c" stroke-width="1.5"/><circle cx="236.21" cy="567.6" r="2.3" fill="#fff" stroke="#d0245c" stroke-width="1.5"/><circle cx="239.59" cy="570.65" r="2.3" fill="#fff" stroke="#d0245c" stroke-width="1.5"/><circle cx="242.96" cy="573.83" r="2.3" fill="#fff" stroke="#d0245c" stroke-width="1.5"/><circle cx="246.34" cy="577.03" r="2.3" fill="#fff" stroke="#d0245c" stroke-width="1.5"/><circle cx="249.71" cy="580.22" r="2.3" fill="#fff" stroke="#d0245c" stroke-width="1.5"/><circle cx="253.08" cy="583.42" r="2.3" fill="#fff" stroke="#d0245c" stroke-width="1.5"/><circle cx="256.46" cy="586.62" r="2.3" fill="#fff" stroke="#d0245c" stroke-width="1.5"/><circle cx="259.83" cy="589.82" r="2.3" fill="#fff" stroke="#d0245c" stroke-width="1.5"/><circle cx="263.21" cy="593.02" r="2.3" fill="#fff" stroke="#d0245c" stroke-width="1.5"/><circle cx="266.58" cy="596.22" r="2.3" fill="#fff" stroke="#d0245c" stroke-width="1.5"/><circle cx="269.95" cy="599.42" r="2.3" fill="#fff" stroke="#d0245c" stroke-width="1.5"/><circle cx="273.33" cy="602.62" r="2.3" fill="#fff" stroke="#d0245c" stroke-width="1.5"/><circle cx="276.7" cy="605.82" r="2.3" fill="#fff" stroke="#d0245c" stroke-width="1.5"/><circle cx="280.08" cy="609.02" r="2.3" fill="#fff" stroke="#d0245c" stroke-width="1.5"/><circle cx="283.45" cy="612.21" r="2.3" fill="#fff" stroke="#d0245c" stroke-width="1.5"/><circle cx="286.83" cy="615.41" r="2.3" fill="#fff" stroke="#d0245c" stroke-width="1.5"/><circle cx="290.2" cy="618.61" r="2.3" fill="#fff" stroke="#d0245c" stroke-width="1.5"/><circle cx="293.57" cy="621.81" r="2.3" fill="#fff" stroke="#d0245c" stroke-width="1.5"/><circle cx="295.45" cy="623.59" r="2.3" fill="#fff" stroke="#d0245c" stroke-width="1.5"/>
<polyline points="96.4,456.8 102.9,458.51 109.41,461.01 115.71,464.72 122.02,468.93 128.22,473.23 133.83,478.14 139.33,482.45 144.63,486.65 149.84,491.36 154.84,495.96 159.44,500.17 163.95,503.87 168.25,507.68 172.45,511.38 176.56,515.06 180.54,518.64 184.4,522.11 188.14,525.47 191.77,528.72 195.27,531.87 198.65,534.9 202.03,537.94 205.42,540.98 208.8,544.01 212.18,547.05 215.56,550.09 218.95,553.13 222.33,556.16 225.71,559.2 229.09,562.24 232.48,565.27 235.86,568.31 239.24,571.35 242.62,574.51 246.01,577.69 249.39,580.87 252.77,584.05 256.15,587.24 259.53,590.42 262.92,593.6 266.3,596.78 269.68,599.96 273.06,603.15 276.45,606.33 279.83,609.51 283.21,612.69 286.59,615.88 289.98,619.06 293.36,622.24 295.24,624.01" fill="none" stroke="#0b70e2" stroke-width="1.2"/>
<path d="M96.4 453.69L99.1 458.82L93.7 458.82Z" fill="#fff" stroke="#0b70e2" stroke-width="1.5"/><path d="M102.9 455.4L105.6 460.53L100.2 460.53Z" fill="#fff" stroke="#0b70e2" stroke-width="1.5"/><path d="M109.41 457.91L112.11 463.04L106.71 463.04Z" fill="#fff" stroke="#0b70e2" stroke-width="1.5"/><path d="M115.71 461.62L118.41 466.75L113.01 466.75Z" fill="#fff" stroke="#0b70e2" stroke-width="1.5"/><path d="M122.02 465.82L124.72 470.95L119.32 470.95Z" fill="#fff" stroke="#0b70e2" stroke-width="1.5"/><path d="M128.22 470.13L130.92 475.26L125.52 475.26Z" fill="#fff" stroke="#0b70e2" stroke-width="1.5"/><path d="M133.83 475.03L136.53 480.16L131.13 480.16Z" fill="#fff" stroke="#0b70e2" stroke-width="1.5"/><path d="M139.33 479.34L142.03 484.47L136.63 484.47Z" fill="#fff" stroke="#0b70e2" stroke-width="1.5"/><path d="M144.63 483.55L147.33 488.68L141.93 488.68Z" fill="#fff" stroke="#0b70e2" stroke-width="1.5"/><path d="M149.84 488.25L152.54 493.38L147.14 493.38Z" fill="#fff" stroke="#0b70e2" stroke-width="1.5"/><path d="M154.84 492.86L157.54 497.99L152.14 497.99Z" fill="#fff" stroke="#0b70e2" stroke-width="1.5"/><path d="M159.44 497.06L162.14 502.19L156.74 502.19Z" fill="#fff" stroke="#0b70e2" stroke-width="1.5"/><path d="M163.95 500.77L166.65 505.9L161.25 505.9Z" fill="#fff" stroke="#0b70e2" stroke-width="1.5"/><path d="M168.25 504.57L170.95 509.7L165.55 509.7Z" fill="#fff" stroke="#0b70e2" stroke-width="1.5"/><path d="M172.45 508.28L175.15 513.41L169.75 513.41Z" fill="#fff" stroke="#0b70e2" stroke-width="1.5"/><path d="M176.56 511.96L179.26 517.09L173.86 517.09Z" fill="#fff" stroke="#0b70e2" stroke-width="1.5"/><path d="M180.54 515.54L183.24 520.67L177.84 520.67Z" fill="#fff" stroke="#0b70e2" stroke-width="1.5"/><path d="M184.4 519L187.1 524.13L181.7 524.13Z" fill="#fff" stroke="#0b70e2" stroke-width="1.5"/><path d="M188.14 522.36L190.84 527.49L185.44 527.49Z" fill="#fff" stroke="#0b70e2" stroke-width="1.5"/><path d="M191.77 525.62L194.47 530.75L189.07 530.75Z" fill="#fff" stroke="#0b70e2" stroke-width="1.5"/><path d="M195.27 528.76L197.97 533.89L192.57 533.89Z" fill="#fff" stroke="#0b70e2" stroke-width="1.5"/><path d="M198.65 531.8L201.35 536.93L195.95 536.93Z" fill="#fff" stroke="#0b70e2" stroke-width="1.5"/><path d="M202.03 534.84L204.73 539.97L199.33 539.97Z" fill="#fff" stroke="#0b70e2" stroke-width="1.5"/><path d="M205.42 537.87L208.12 543L202.72 543Z" fill="#fff" stroke="#0b70e2" stroke-width="1.5"/><path d="M208.8 540.91L211.5 546.04L206.1 546.04Z" fill="#fff" stroke="#0b70e2" stroke-width="1.5"/><path d="M212.18 543.95L214.88 549.08L209.48 549.08Z" fill="#fff" stroke="#0b70e2" stroke-width="1.5"/><path d="M215.56 546.98L218.26 552.11L212.86 552.11Z" fill="#fff" stroke="#0b70e2" stroke-width="1.5"/><path d="M218.95 550.02L221.65 555.15L216.25 555.15Z" fill="#fff" stroke="#0b70e2" stroke-width="1.5"/><path d="M222.33 553.06L225.03 558.19L219.63 558.19Z" fill="#fff" stroke="#0b70e2" stroke-width="1.5"/><path d="M225.71 556.1L228.41 561.23L223.01 561.23Z" fill="#fff" stroke="#0b70e2" stroke-width="1.5"/><path d="M229.09 559.13L231.79 564.26L226.39 564.26Z" fill="#fff" stroke="#0b70e2" stroke-width="1.5"/><path d="M232.48 562.17L235.18 567.3L229.78 567.3Z" fill="#fff" stroke="#0b70e2" stroke-width="1.5"/><path d="M235.86 565.21L238.56 570.34L233.16 570.34Z" fill="#fff" stroke="#0b70e2" stroke-width="1.5"/><path d="M239.24 568.24L241.94 573.37L236.54 573.37Z" fill="#fff" stroke="#0b70e2" stroke-width="1.5"/><path d="M242.62 571.4L245.32 576.53L239.92 576.53Z" fill="#fff" stroke="#0b70e2" stroke-width="1.5"/><path d="M246.01 574.58L248.71 579.71L243.31 579.71Z" fill="#fff" stroke="#0b70e2" stroke-width="1.5"/><path d="M249.39 577.77L252.09 582.9L246.69 582.9Z" fill="#fff" stroke="#0b70e2" stroke-width="1.5"/><path d="M252.77 580.95L255.47 586.08L250.07 586.08Z" fill="#fff" stroke="#0b70e2" stroke-width="1.5"/><path d="M256.15 584.13L258.85 589.26L253.45 589.26Z" fill="#fff" stroke="#0b70e2" stroke-width="1.5"/><path d="M259.53 587.31L262.23 592.44L256.83 592.44Z" fill="#fff" stroke="#0b70e2" stroke-width="1.5"/><path d="M262.92 590.49L265.62 595.62L260.22 595.62Z" fill="#fff" stroke="#0b70e2" stroke-width="1.5"/><path d="M266.3 593.68L269 598.81L263.6 598.81Z" fill="#fff" stroke="#0b70e2" stroke-width="1.5"/><path d="M269.68 596.86L272.38 601.99L266.98 601.99Z" fill="#fff" stroke="#0b70e2" stroke-width="1.5"/><path d="M273.06 600.04L275.76 605.17L270.36 605.17Z" fill="#fff" stroke="#0b70e2" stroke-width="1.5"/><path d="M276.45 603.22L279.15 608.35L273.75 608.35Z" fill="#fff" stroke="#0b70e2" stroke-width="1.5"/><path d="M279.83 606.41L282.53 611.54L277.13 611.54Z" fill="#fff" stroke="#0b70e2" stroke-width="1.5"/><path d="M283.21 609.59L285.91 614.72L280.51 614.72Z" fill="#fff" stroke="#0b70e2" stroke-width="1.5"/><path d="M286.59 612.77L289.29 617.9L283.89 617.9Z" fill="#fff" stroke="#0b70e2" stroke-width="1.5"/><path d="M289.98 615.95L292.68 621.08L287.28 621.08Z" fill="#fff" stroke="#0b70e2" stroke-width="1.5"/><path d="M293.36 619.13L296.06 624.26L290.66 624.26Z" fill="#fff" stroke="#0b70e2" stroke-width="1.5"/><path d="M295.24 620.9L297.94 626.03L292.54 626.03Z" fill="#fff" stroke="#0b70e2" stroke-width="1.5"/>
<polyline points="96.6,457.1 103.1,458.8 109.6,461.3 115.9,465 122.2,469.2 128.4,473.5 134,478.4 139.5,482.7 144.8,486.9 150,491.6 155,496.2 159.6,500.4 164.1,504.1 168.4,507.9 172.6,511.6 176.7,515.28 180.68,518.85 184.54,522.32 188.28,525.67 191.9,528.92 195.4,532.06 198.78,535.1 202.16,538.13 205.54,541.16 208.92,544.2 212.3,547.23 215.68,550.26 219.06,553.3 222.44,556.33 225.82,559.36 229.2,562.4 232.58,565.43 235.96,568.46 239.34,571.5 242.72,574.65 246.1,577.83 249.48,581.01 252.86,584.19 256.24,587.37 259.62,590.55 263,593.72 266.38,596.9 269.76,600.08 273.14,603.26 276.52,606.44 279.9,609.62 283.28,612.8 286.66,615.97 290.04,619.15 293.42,622.33 295.3,624.1" fill="none" stroke="#05ab51" stroke-width="1.2"/>
<path d="M96.6 454L99.7 457.1L96.6 460.2L93.5 457.1Z" fill="#fff" stroke="#05ab51" stroke-width="1.5"/><path d="M103.1 455.7L106.2 458.8L103.1 461.9L100 458.8Z" fill="#fff" stroke="#05ab51" stroke-width="1.5"/><path d="M109.6 458.2L112.7 461.3L109.6 464.4L106.5 461.3Z" fill="#fff" stroke="#05ab51" stroke-width="1.5"/><path d="M115.9 461.9L119 465L115.9 468.1L112.8 465Z" fill="#fff" stroke="#05ab51" stroke-width="1.5"/><path d="M122.2 466.1L125.3 469.2L122.2 472.3L119.1 469.2Z" fill="#fff" stroke="#05ab51" stroke-width="1.5"/><path d="M128.4 470.4L131.5 473.5L128.4 476.6L125.3 473.5Z" fill="#fff" stroke="#05ab51" stroke-width="1.5"/><path d="M134 475.3L137.1 478.4L134 481.5L130.9 478.4Z" fill="#fff" stroke="#05ab51" stroke-width="1.5"/><path d="M139.5 479.6L142.6 482.7L139.5 485.8L136.4 482.7Z" fill="#fff" stroke="#05ab51" stroke-width="1.5"/><path d="M144.8 483.8L147.9 486.9L144.8 490L141.7 486.9Z" fill="#fff" stroke="#05ab51" stroke-width="1.5"/><path d="M150 488.5L153.1 491.6L150 494.7L146.9 491.6Z" fill="#fff" stroke="#05ab51" stroke-width="1.5"/><path d="M155 493.1L158.1 496.2L155 499.3L151.9 496.2Z" fill="#fff" stroke="#05ab51" stroke-width="1.5"/><path d="M159.6 497.3L162.7 500.4L159.6 503.5L156.5 500.4Z" fill="#fff" stroke="#05ab51" stroke-width="1.5"/><path d="M164.1 501L167.2 504.1L164.1 507.2L161 504.1Z" fill="#fff" stroke="#05ab51" stroke-width="1.5"/><path d="M168.4 504.8L171.5 507.9L168.4 511L165.3 507.9Z" fill="#fff" stroke="#05ab51" stroke-width="1.5"/><path d="M172.6 508.5L175.7 511.6L172.6 514.7L169.5 511.6Z" fill="#fff" stroke="#05ab51" stroke-width="1.5"/><path d="M176.7 512.18L179.8 515.28L176.7 518.38L173.6 515.28Z" fill="#fff" stroke="#05ab51" stroke-width="1.5"/><path d="M180.68 515.75L183.78 518.85L180.68 521.95L177.58 518.85Z" fill="#fff" stroke="#05ab51" stroke-width="1.5"/><path d="M184.54 519.22L187.64 522.32L184.54 525.42L181.44 522.32Z" fill="#fff" stroke="#05ab51" stroke-width="1.5"/><path d="M188.28 522.57L191.38 525.67L188.28 528.77L185.18 525.67Z" fill="#fff" stroke="#05ab51" stroke-width="1.5"/><path d="M191.9 525.82L195 528.92L191.9 532.02L188.8 528.92Z" fill="#fff" stroke="#05ab51" stroke-width="1.5"/><path d="M195.4 528.96L198.5 532.06L195.4 535.16L192.3 532.06Z" fill="#fff" stroke="#05ab51" stroke-width="1.5"/><path d="M198.78 532L201.88 535.1L198.78 538.2L195.68 535.1Z" fill="#fff" stroke="#05ab51" stroke-width="1.5"/><path d="M202.16 535.03L205.26 538.13L202.16 541.23L199.06 538.13Z" fill="#fff" stroke="#05ab51" stroke-width="1.5"/><path d="M205.54 538.06L208.64 541.16L205.54 544.26L202.44 541.16Z" fill="#fff" stroke="#05ab51" stroke-width="1.5"/><path d="M208.92 541.1L212.02 544.2L208.92 547.3L205.82 544.2Z" fill="#fff" stroke="#05ab51" stroke-width="1.5"/><path d="M212.3 544.13L215.4 547.23L212.3 550.33L209.2 547.23Z" fill="#fff" stroke="#05ab51" stroke-width="1.5"/><path d="M215.68 547.16L218.78 550.26L215.68 553.36L212.58 550.26Z" fill="#fff" stroke="#05ab51" stroke-width="1.5"/><path d="M219.06 550.2L222.16 553.3L219.06 556.4L215.96 553.3Z" fill="#fff" stroke="#05ab51" stroke-width="1.5"/><path d="M222.44 553.23L225.54 556.33L222.44 559.43L219.34 556.33Z" fill="#fff" stroke="#05ab51" stroke-width="1.5"/><path d="M225.82 556.26L228.92 559.36L225.82 562.46L222.72 559.36Z" fill="#fff" stroke="#05ab51" stroke-width="1.5"/><path d="M229.2 559.3L232.3 562.4L229.2 565.5L226.1 562.4Z" fill="#fff" stroke="#05ab51" stroke-width="1.5"/><path d="M232.58 562.33L235.68 565.43L232.58 568.53L229.48 565.43Z" fill="#fff" stroke="#05ab51" stroke-width="1.5"/><path d="M235.96 565.36L239.06 568.46L235.96 571.56L232.86 568.46Z" fill="#fff" stroke="#05ab51" stroke-width="1.5"/><path d="M239.34 568.4L242.44 571.5L239.34 574.6L236.24 571.5Z" fill="#fff" stroke="#05ab51" stroke-width="1.5"/><path d="M242.72 571.55L245.82 574.65L242.72 577.75L239.62 574.65Z" fill="#fff" stroke="#05ab51" stroke-width="1.5"/><path d="M246.1 574.73L249.2 577.83L246.1 580.93L243 577.83Z" fill="#fff" stroke="#05ab51" stroke-width="1.5"/><path d="M249.48 577.91L252.58 581.01L249.48 584.11L246.38 581.01Z" fill="#fff" stroke="#05ab51" stroke-width="1.5"/><path d="M252.86 581.09L255.96 584.19L252.86 587.29L249.76 584.19Z" fill="#fff" stroke="#05ab51" stroke-width="1.5"/><path d="M256.24 584.27L259.34 587.37L256.24 590.47L253.14 587.37Z" fill="#fff" stroke="#05ab51" stroke-width="1.5"/><path d="M259.62 587.45L262.72 590.55L259.62 593.65L256.52 590.55Z" fill="#fff" stroke="#05ab51" stroke-width="1.5"/><path d="M263 590.62L266.1 593.72L263 596.82L259.9 593.72Z" fill="#fff" stroke="#05ab51" stroke-width="1.5"/><path d="M266.38 593.8L269.48 596.9L266.38 600L263.28 596.9Z" fill="#fff" stroke="#05ab51" stroke-width="1.5"/><path d="M269.76 596.98L272.86 600.08L269.76 603.18L266.66 600.08Z" fill="#fff" stroke="#05ab51" stroke-width="1.5"/><path d="M273.14 600.16L276.24 603.26L273.14 606.36L270.04 603.26Z" fill="#fff" stroke="#05ab51" stroke-width="1.5"/><path d="M276.52 603.34L279.62 606.44L276.52 609.54L273.42 606.44Z" fill="#fff" stroke="#05ab51" stroke-width="1.5"/><path d="M279.9 606.52L283 609.62L279.9 612.72L276.8 609.62Z" fill="#fff" stroke="#05ab51" stroke-width="1.5"/><path d="M283.28 609.7L286.38 612.8L283.28 615.9L280.18 612.8Z" fill="#fff" stroke="#05ab51" stroke-width="1.5"/><path d="M286.66 612.87L289.76 615.97L286.66 619.07L283.56 615.97Z" fill="#fff" stroke="#05ab51" stroke-width="1.5"/><path d="M290.04 616.05L293.14 619.15L290.04 622.25L286.94 619.15Z" fill="#fff" stroke="#05ab51" stroke-width="1.5"/><path d="M293.42 619.23L296.52 622.33L293.42 625.43L290.32 622.33Z" fill="#fff" stroke="#05ab51" stroke-width="1.5"/><path d="M295.3 621L298.4 624.1L295.3 627.2L292.2 624.1Z" fill="#fff" stroke="#05ab51" stroke-width="1.5"/>
<rect x="64" y="443" width="264" height="192.8" fill="none" stroke="#000" stroke-width="2"/>
<path d="M97 635.8 l0 -4.1M130 635.8 l0 -4.1M163 635.8 l0 -4.1M196 635.8 l0 -4.1M229 635.8 l0 -4.1M262 635.8 l0 -4.1M295 635.8 l0 -4.1M64 475.13 l4.1 0M64 507.27 l4.1 0M64 539.4 l4.1 0M64 571.53 l4.1 0M64 603.67 l4.1 0" fill="none" stroke="#000" stroke-width="1.8"/>
<path d="M73.93 635.8 l0 -2M79.75 635.8 l0 -2M83.87 635.8 l0 -2M87.07 635.8 l0 -2M89.68 635.8 l0 -2M91.89 635.8 l0 -2M93.8 635.8 l0 -2M95.49 635.8 l0 -2M106.93 635.8 l0 -2M112.75 635.8 l0 -2M116.87 635.8 l0 -2M120.07 635.8 l0 -2M122.68 635.8 l0 -2M124.89 635.8 l0 -2M126.8 635.8 l0 -2M128.49 635.8 l0 -2M139.93 635.8 l0 -2M145.75 635.8 l0 -2M149.87 635.8 l0 -2M153.07 635.8 l0 -2M155.68 635.8 l0 -2M157.89 635.8 l0 -2M159.8 635.8 l0 -2M161.49 635.8 l0 -2M172.93 635.8 l0 -2M178.75 635.8 l0 -2M182.87 635.8 l0 -2M186.07 635.8 l0 -2M188.68 635.8 l0 -2M190.89 635.8 l0 -2M192.8 635.8 l0 -2M194.49 635.8 l0 -2M205.93 635.8 l0 -2M211.75 635.8 l0 -2M215.87 635.8 l0 -2M219.07 635.8 l0 -2M221.68 635.8 l0 -2M223.89 635.8 l0 -2M225.8 635.8 l0 -2M227.49 635.8 l0 -2M238.93 635.8 l0 -2M244.75 635.8 l0 -2M248.87 635.8 l0 -2M252.07 635.8 l0 -2M254.68 635.8 l0 -2M256.89 635.8 l0 -2M258.8 635.8 l0 -2M260.49 635.8 l0 -2M271.93 635.8 l0 -2M277.75 635.8 l0 -2M281.87 635.8 l0 -2M285.07 635.8 l0 -2M287.68 635.8 l0 -2M289.89 635.8 l0 -2M291.8 635.8 l0 -2M293.49 635.8 l0 -2M304.93 635.8 l0 -2M310.75 635.8 l0 -2M314.87 635.8 l0 -2M318.07 635.8 l0 -2M320.68 635.8 l0 -2M322.89 635.8 l0 -2M324.8 635.8 l0 -2M326.49 635.8 l0 -2M64 626.13 l2 0M64 620.47 l2 0M64 616.45 l2 0M64 613.34 l2 0M64 610.8 l2 0M64 608.64 l2 0M64 606.78 l2 0M64 605.14 l2 0M64 593.99 l2 0M64 588.34 l2 0M64 584.32 l2 0M64 581.21 l2 0M64 578.66 l2 0M64 576.51 l2 0M64 574.65 l2 0M64 573 l2 0M64 561.86 l2 0M64 556.2 l2 0M64 552.19 l2 0M64 549.07 l2 0M64 546.53 l2 0M64 544.38 l2 0M64 542.51 l2 0M64 540.87 l2 0M64 529.73 l2 0M64 524.07 l2 0M64 520.05 l2 0M64 516.94 l2 0M64 514.4 l2 0M64 512.24 l2 0M64 510.38 l2 0M64 508.74 l2 0M64 497.59 l2 0M64 491.94 l2 0M64 487.92 l2 0M64 484.81 l2 0M64 482.26 l2 0M64 480.11 l2 0M64 478.25 l2 0M64 476.6 l2 0M64 465.46 l2 0M64 459.8 l2 0M64 455.79 l2 0M64 452.67 l2 0M64 450.13 l2 0M64 447.98 l2 0M64 446.11 l2 0M64 444.47 l2 0" fill="none" stroke="#000" stroke-width="1"/>
<text x="27.5" y="449.3" font-size="18">10<tspan font-size="12" dy="-7.2">9</tspan></text>
<text x="27.5" y="513.57" font-size="18">10<tspan font-size="12" dy="-7.2">7</tspan></text>
<text x="27.5" y="577.83" font-size="18">10<tspan font-size="12" dy="-7.2">5</tspan></text>
<text x="27.5" y="642.1" font-size="18">10<tspan font-size="12" dy="-7.2">3</tspan></text>
<text x="48.65" y="661.9" font-size="18">10<tspan font-size="12" dy="-7.2">-2</tspan></text>
<text x="116.65" y="661.9" font-size="18">10<tspan font-size="12" dy="-7.2">0</tspan></text>
<text x="182.65" y="661.9" font-size="18">10<tspan font-size="12" dy="-7.2">2</tspan></text>
<text x="248.65" y="661.9" font-size="18">10<tspan font-size="12" dy="-7.2">4</tspan></text>
<text x="314.65" y="661.9" font-size="18">10<tspan font-size="12" dy="-7.2">6</tspan></text>
<text x="195.9" y="678.3" font-size="18.2" text-anchor="middle" textLength="126" lengthAdjust="spacingAndGlyphs">Frequency / Hz</text>
<text transform="translate(22.3 539.1) rotate(-90)" font-size="18.5" text-anchor="middle" textLength="85" lengthAdjust="spacingAndGlyphs">|Z| / Ω·cm<tspan font-size="12" dy="-7.5">2</tspan></text>
<line x1="267" y1="457.7" x2="295.9" y2="457.7" stroke="#454344" stroke-width="1.3"/>
<rect x="276.7" y="455.7" width="9.6" height="4" fill="#fff"/>
<rect x="279.5" y="455.7" width="4" height="4" fill="#fff" stroke="#454344" stroke-width="1.3"/>
<text x="299.4" y="462.1" font-size="13">0 d</text>
<line x1="267" y1="473.17" x2="295.9" y2="473.17" stroke="#d0245c" stroke-width="1.3"/>
<rect x="276.7" y="471.17" width="9.6" height="4" fill="#fff"/>
<circle cx="281.5" cy="473.17" r="2.5" fill="#fff" stroke="#d0245c" stroke-width="1.3"/>
<text x="299.4" y="477.57" font-size="13">1 d</text>
<line x1="267" y1="488.64" x2="295.9" y2="488.64" stroke="#0b70e2" stroke-width="1.3"/>
<rect x="276.7" y="486.64" width="9.6" height="4" fill="#fff"/>
<path d="M281.5 485.24L284.8 491.51L278.2 491.51Z" fill="#fff" stroke="#0b70e2" stroke-width="1.3"/>
<text x="299.4" y="493.04" font-size="13">3 d</text>
<line x1="267" y1="504.11" x2="295.9" y2="504.11" stroke="#05ab51" stroke-width="1.3"/>
<rect x="276.7" y="502.11" width="9.6" height="4" fill="#fff"/>
<path d="M281.5 500.71L284.9 504.11L281.5 507.51L278.1 504.11Z" fill="#fff" stroke="#05ab51" stroke-width="1.3"/>
<text x="299.4" y="508.51" font-size="13">7 d</text>
</g>
<g id="pe">
<text x="346" y="450.8" font-size="27.5">e</text>
<rect x="416.1" y="443" width="264.05" height="193" fill="none" stroke="#000" stroke-width="2"/>
<path d="M504.12 636 l0 -4.1M592.13 636 l0 -4.1M416.1 571.67 l4.1 0M416.1 507.33 l4.1 0" fill="none" stroke="#000" stroke-width="1.8"/>
<path d="M445.44 636 l0 -2.3M474.78 636 l0 -2.3M533.46 636 l0 -2.3M562.79 636 l0 -2.3M621.47 636 l0 -2.3M650.81 636 l0 -2.3M416.1 614.56 l2.3 0M416.1 593.11 l2.3 0M416.1 550.22 l2.3 0M416.1 528.78 l2.3 0M416.1 485.89 l2.3 0M416.1 464.44 l2.3 0" fill="none" stroke="#000" stroke-width="1.6"/>
<rect x="610.8" y="493.9" width="4.4" height="4.4" fill="#fff" stroke="#454344" stroke-width="1.5"/><rect x="568.1" y="504" width="4.4" height="4.4" fill="#fff" stroke="#454344" stroke-width="1.5"/><rect x="523.4" y="520" width="4.4" height="4.4" fill="#fff" stroke="#454344" stroke-width="1.5"/><rect x="486.5" y="540.3" width="4.4" height="4.4" fill="#fff" stroke="#454344" stroke-width="1.5"/><rect x="458.9" y="561.2" width="4.4" height="4.4" fill="#fff" stroke="#454344" stroke-width="1.5"/><rect x="441.3" y="579.3" width="4.4" height="4.4" fill="#fff" stroke="#454344" stroke-width="1.5"/><rect x="430.5" y="594.1" width="4.4" height="4.4" fill="#fff" stroke="#454344" stroke-width="1.5"/><rect x="423.2" y="604.6" width="4.4" height="4.4" fill="#fff" stroke="#454344" stroke-width="1.5"/><rect x="419.2" y="612.4" width="4.4" height="4.4" fill="#fff" stroke="#454344" stroke-width="1.5"/><rect x="417.57" y="615.68" width="4.4" height="4.4" fill="#fff" stroke="#454344" stroke-width="1.5"/><rect x="416.86" y="618.86" width="4.4" height="4.4" fill="#fff" stroke="#454344" stroke-width="1.5"/><rect x="416.27" y="621.47" width="4.4" height="4.4" fill="#fff" stroke="#454344" stroke-width="1.5"/><rect x="415.76" y="623.6" width="4.4" height="4.4" fill="#fff" stroke="#454344" stroke-width="1.5"/><rect x="415.34" y="625.34" width="4.4" height="4.4" fill="#fff" stroke="#454344" stroke-width="1.5"/><rect x="414.94" y="626.75" width="4.4" height="4.4" fill="#fff" stroke="#454344" stroke-width="1.5"/><rect x="414.61" y="627.91" width="4.4" height="4.4" fill="#fff" stroke="#454344" stroke-width="1.5"/><rect x="414.33" y="628.87" width="4.4" height="4.4" fill="#fff" stroke="#454344" stroke-width="1.5"/><rect x="414.11" y="629.65" width="4.4" height="4.4" fill="#fff" stroke="#454344" stroke-width="1.5"/><rect x="413.93" y="630.29" width="4.4" height="4.4" fill="#fff" stroke="#454344" stroke-width="1.5"/><rect x="413.78" y="630.81" width="4.4" height="4.4" fill="#fff" stroke="#454344" stroke-width="1.5"/><rect x="413.66" y="631.24" width="4.4" height="4.4" fill="#fff" stroke="#454344" stroke-width="1.5"/><rect x="413.56" y="631.59" width="4.4" height="4.4" fill="#fff" stroke="#454344" stroke-width="1.5"/><rect x="413.48" y="631.88" width="4.4" height="4.4" fill="#fff" stroke="#454344" stroke-width="1.5"/><rect x="413.41" y="632.12" width="4.4" height="4.4" fill="#fff" stroke="#454344" stroke-width="1.5"/><rect x="413.35" y="632.31" width="4.4" height="4.4" fill="#fff" stroke="#454344" stroke-width="1.5"/><rect x="413.31" y="632.47" width="4.4" height="4.4" fill="#fff" stroke="#454344" stroke-width="1.5"/><rect x="413.27" y="632.6" width="4.4" height="4.4" fill="#fff" stroke="#454344" stroke-width="1.5"/><rect x="413.24" y="632.71" width="4.4" height="4.4" fill="#fff" stroke="#454344" stroke-width="1.5"/><rect x="413.21" y="632.8" width="4.4" height="4.4" fill="#fff" stroke="#454344" stroke-width="1.5"/><rect x="413.19" y="632.87" width="4.4" height="4.4" fill="#fff" stroke="#454344" stroke-width="1.5"/><rect x="413.18" y="632.93" width="4.4" height="4.4" fill="#fff" stroke="#454344" stroke-width="1.5"/><rect x="413.16" y="632.98" width="4.4" height="4.4" fill="#fff" stroke="#454344" stroke-width="1.5"/><rect x="413.15" y="633.02" width="4.4" height="4.4" fill="#fff" stroke="#454344" stroke-width="1.5"/><rect x="413.14" y="633.05" width="4.4" height="4.4" fill="#fff" stroke="#454344" stroke-width="1.5"/><rect x="413.13" y="633.08" width="4.4" height="4.4" fill="#fff" stroke="#454344" stroke-width="1.5"/>
<circle cx="647.4" cy="486.6" r="2.6" fill="#fff" stroke="#d0245c" stroke-width="1.5"/><circle cx="580.8" cy="505.4" r="2.6" fill="#fff" stroke="#d0245c" stroke-width="1.5"/><circle cx="524.8" cy="528.5" r="2.6" fill="#fff" stroke="#d0245c" stroke-width="1.5"/><circle cx="484.2" cy="552.1" r="2.6" fill="#fff" stroke="#d0245c" stroke-width="1.5"/><circle cx="457.3" cy="573.4" r="2.6" fill="#fff" stroke="#d0245c" stroke-width="1.5"/><circle cx="441" cy="590.3" r="2.6" fill="#fff" stroke="#d0245c" stroke-width="1.5"/><circle cx="430.9" cy="602.3" r="2.6" fill="#fff" stroke="#d0245c" stroke-width="1.5"/><circle cx="424.7" cy="610.4" r="2.6" fill="#fff" stroke="#d0245c" stroke-width="1.5"/><circle cx="422.55" cy="614.65" r="2.6" fill="#fff" stroke="#d0245c" stroke-width="1.5"/><circle cx="421.16" cy="618.39" r="2.6" fill="#fff" stroke="#d0245c" stroke-width="1.5"/><circle cx="420.04" cy="621.46" r="2.6" fill="#fff" stroke="#d0245c" stroke-width="1.5"/><circle cx="419.15" cy="623.99" r="2.6" fill="#fff" stroke="#d0245c" stroke-width="1.5"/><circle cx="418.44" cy="626.07" r="2.6" fill="#fff" stroke="#d0245c" stroke-width="1.5"/><circle cx="417.95" cy="627.8" r="2.6" fill="#fff" stroke="#d0245c" stroke-width="1.5"/><circle cx="417.54" cy="629.23" r="2.6" fill="#fff" stroke="#d0245c" stroke-width="1.5"/><circle cx="417.21" cy="630.39" r="2.6" fill="#fff" stroke="#d0245c" stroke-width="1.5"/><circle cx="416.94" cy="631.35" r="2.6" fill="#fff" stroke="#d0245c" stroke-width="1.5"/><circle cx="416.72" cy="632.13" r="2.6" fill="#fff" stroke="#d0245c" stroke-width="1.5"/><circle cx="416.53" cy="632.77" r="2.6" fill="#fff" stroke="#d0245c" stroke-width="1.5"/><circle cx="416.38" cy="633.3" r="2.6" fill="#fff" stroke="#d0245c" stroke-width="1.5"/><circle cx="416.26" cy="633.73" r="2.6" fill="#fff" stroke="#d0245c" stroke-width="1.5"/><circle cx="416.16" cy="634.09" r="2.6" fill="#fff" stroke="#d0245c" stroke-width="1.5"/><circle cx="416.08" cy="634.38" r="2.6" fill="#fff" stroke="#d0245c" stroke-width="1.5"/><circle cx="416.01" cy="634.61" r="2.6" fill="#fff" stroke="#d0245c" stroke-width="1.5"/><circle cx="415.95" cy="634.81" r="2.6" fill="#fff" stroke="#d0245c" stroke-width="1.5"/><circle cx="415.91" cy="634.97" r="2.6" fill="#fff" stroke="#d0245c" stroke-width="1.5"/><circle cx="415.87" cy="635.1" r="2.6" fill="#fff" stroke="#d0245c" stroke-width="1.5"/><circle cx="415.84" cy="635.21" r="2.6" fill="#fff" stroke="#d0245c" stroke-width="1.5"/><circle cx="415.81" cy="635.3" r="2.6" fill="#fff" stroke="#d0245c" stroke-width="1.5"/><circle cx="415.79" cy="635.37" r="2.6" fill="#fff" stroke="#d0245c" stroke-width="1.5"/><circle cx="415.78" cy="635.43" r="2.6" fill="#fff" stroke="#d0245c" stroke-width="1.5"/><circle cx="415.76" cy="635.48" r="2.6" fill="#fff" stroke="#d0245c" stroke-width="1.5"/><circle cx="415.75" cy="635.52" r="2.6" fill="#fff" stroke="#d0245c" stroke-width="1.5"/><circle cx="415.74" cy="635.55" r="2.6" fill="#fff" stroke="#d0245c" stroke-width="1.5"/>
<path d="M672.5 485.38L675.3 490.7L669.7 490.7Z" fill="#fff" stroke="#0b70e2" stroke-width="1.5"/><path d="M616.5 496.18L619.3 501.5L613.7 501.5Z" fill="#fff" stroke="#0b70e2" stroke-width="1.5"/><path d="M558.7 512.78L561.5 518.1L555.9 518.1Z" fill="#fff" stroke="#0b70e2" stroke-width="1.5"/><path d="M510.1 533.58L512.9 538.9L507.3 538.9Z" fill="#fff" stroke="#0b70e2" stroke-width="1.5"/><path d="M474.9 555.58L477.7 560.9L472.1 560.9Z" fill="#fff" stroke="#0b70e2" stroke-width="1.5"/><path d="M451.5 575.18L454.3 580.5L448.7 580.5Z" fill="#fff" stroke="#0b70e2" stroke-width="1.5"/><path d="M438 590.08L440.8 595.4L435.2 595.4Z" fill="#fff" stroke="#0b70e2" stroke-width="1.5"/><path d="M429.2 601.58L432 606.9L426.4 606.9Z" fill="#fff" stroke="#0b70e2" stroke-width="1.5"/><path d="M425.91 607.58L428.71 612.9L423.11 612.9Z" fill="#fff" stroke="#0b70e2" stroke-width="1.5"/><path d="M423.58 612.04L426.38 617.36L420.78 617.36Z" fill="#fff" stroke="#0b70e2" stroke-width="1.5"/><path d="M421.76 615.73L424.56 621.05L418.96 621.05Z" fill="#fff" stroke="#0b70e2" stroke-width="1.5"/><path d="M420.34 618.79L423.14 624.11L417.54 624.11Z" fill="#fff" stroke="#0b70e2" stroke-width="1.5"/><path d="M419.24 621.31L422.04 626.63L416.44 626.63Z" fill="#fff" stroke="#0b70e2" stroke-width="1.5"/><path d="M418.62 623.49L421.42 628.81L415.82 628.81Z" fill="#fff" stroke="#0b70e2" stroke-width="1.5"/><path d="M418.11 625.27L420.91 630.59L415.31 630.59Z" fill="#fff" stroke="#0b70e2" stroke-width="1.5"/><path d="M417.69 626.73L420.49 632.05L414.89 632.05Z" fill="#fff" stroke="#0b70e2" stroke-width="1.5"/><path d="M417.35 627.92L420.15 633.24L414.55 633.24Z" fill="#fff" stroke="#0b70e2" stroke-width="1.5"/><path d="M417.07 628.91L419.87 634.23L414.27 634.23Z" fill="#fff" stroke="#0b70e2" stroke-width="1.5"/><path d="M416.84 629.71L419.64 635.03L414.04 635.03Z" fill="#fff" stroke="#0b70e2" stroke-width="1.5"/><path d="M416.66 630.37L419.46 635.69L413.86 635.69Z" fill="#fff" stroke="#0b70e2" stroke-width="1.5"/><path d="M416.5 630.91L419.3 636.23L413.7 636.23Z" fill="#fff" stroke="#0b70e2" stroke-width="1.5"/><path d="M416.38 631.36L419.18 636.68L413.58 636.68Z" fill="#fff" stroke="#0b70e2" stroke-width="1.5"/><path d="M416.27 631.72L419.07 637.04L413.47 637.04Z" fill="#fff" stroke="#0b70e2" stroke-width="1.5"/><path d="M416.19 632.02L418.99 637.34L413.39 637.34Z" fill="#fff" stroke="#0b70e2" stroke-width="1.5"/><path d="M416.12 632.26L418.92 637.58L413.32 637.58Z" fill="#fff" stroke="#0b70e2" stroke-width="1.5"/><path d="M416.06 632.47L418.86 637.79L413.26 637.79Z" fill="#fff" stroke="#0b70e2" stroke-width="1.5"/><path d="M416.01 632.63L418.81 637.95L413.21 637.95Z" fill="#fff" stroke="#0b70e2" stroke-width="1.5"/><path d="M415.98 632.77L418.78 638.09L413.18 638.09Z" fill="#fff" stroke="#0b70e2" stroke-width="1.5"/><path d="M415.94 632.88L418.74 638.2L413.14 638.2Z" fill="#fff" stroke="#0b70e2" stroke-width="1.5"/><path d="M415.92 632.97L418.72 638.29L413.12 638.29Z" fill="#fff" stroke="#0b70e2" stroke-width="1.5"/><path d="M415.9 633.04L418.7 638.36L413.1 638.36Z" fill="#fff" stroke="#0b70e2" stroke-width="1.5"/><path d="M415.88 633.1L418.68 638.42L413.08 638.42Z" fill="#fff" stroke="#0b70e2" stroke-width="1.5"/><path d="M415.86 633.15L418.66 638.47L413.06 638.47Z" fill="#fff" stroke="#0b70e2" stroke-width="1.5"/><path d="M415.85 633.19L418.65 638.51L413.05 638.51Z" fill="#fff" stroke="#0b70e2" stroke-width="1.5"/>
<path d="M662.5 496.8L665.8 500.1L662.5 503.4L659.2 500.1Z" fill="#fff" stroke="#05ab51" stroke-width="1.5"/><path d="M608.7 507.1L612 510.4L608.7 513.7L605.4 510.4Z" fill="#fff" stroke="#05ab51" stroke-width="1.5"/><path d="M553.2 522.5L556.5 525.8L553.2 529.1L549.9 525.8Z" fill="#fff" stroke="#05ab51" stroke-width="1.5"/><path d="M506.8 541.2L510.1 544.5L506.8 547.8L503.5 544.5Z" fill="#fff" stroke="#05ab51" stroke-width="1.5"/><path d="M472.4 561.8L475.7 565.1L472.4 568.4L469.1 565.1Z" fill="#fff" stroke="#05ab51" stroke-width="1.5"/><path d="M450.5 580.2L453.8 583.5L450.5 586.8L447.2 583.5Z" fill="#fff" stroke="#05ab51" stroke-width="1.5"/><path d="M437.2 594L440.5 597.3L437.2 600.6L433.9 597.3Z" fill="#fff" stroke="#05ab51" stroke-width="1.5"/><path d="M428.9 604L432.2 607.3L428.9 610.6L425.6 607.3Z" fill="#fff" stroke="#05ab51" stroke-width="1.5"/><path d="M423.4 611.6L426.7 614.9L423.4 618.2L420.1 614.9Z" fill="#fff" stroke="#05ab51" stroke-width="1.5"/><path d="M420.4 617.6L423.7 620.9L420.4 624.2L417.1 620.9Z" fill="#fff" stroke="#05ab51" stroke-width="1.5"/><path d="M419.63 620.32L422.93 623.62L419.63 626.92L416.33 623.62Z" fill="#fff" stroke="#05ab51" stroke-width="1.5"/><path d="M418.99 622.55L422.29 625.85L418.99 629.15L415.69 625.85Z" fill="#fff" stroke="#05ab51" stroke-width="1.5"/><path d="M418.47 624.37L421.77 627.67L418.47 630.97L415.17 627.67Z" fill="#fff" stroke="#05ab51" stroke-width="1.5"/><path d="M418.04 625.87L421.34 629.17L418.04 632.47L414.74 629.17Z" fill="#fff" stroke="#05ab51" stroke-width="1.5"/><path d="M417.69 627.1L420.99 630.4L417.69 633.7L414.39 630.4Z" fill="#fff" stroke="#05ab51" stroke-width="1.5"/><path d="M417.41 628.11L420.71 631.41L417.41 634.71L414.11 631.41Z" fill="#fff" stroke="#05ab51" stroke-width="1.5"/><path d="M417.17 628.94L420.47 632.24L417.17 635.54L413.87 632.24Z" fill="#fff" stroke="#05ab51" stroke-width="1.5"/><path d="M416.98 629.61L420.28 632.91L416.98 636.21L413.68 632.91Z" fill="#fff" stroke="#05ab51" stroke-width="1.5"/><path d="M416.82 630.17L420.12 633.47L416.82 636.77L413.52 633.47Z" fill="#fff" stroke="#05ab51" stroke-width="1.5"/><path d="M416.69 630.62L419.99 633.92L416.69 637.22L413.39 633.92Z" fill="#fff" stroke="#05ab51" stroke-width="1.5"/><path d="M416.58 631L419.88 634.3L416.58 637.6L413.28 634.3Z" fill="#fff" stroke="#05ab51" stroke-width="1.5"/><path d="M416.5 631.3L419.8 634.6L416.5 637.9L413.2 634.6Z" fill="#fff" stroke="#05ab51" stroke-width="1.5"/><path d="M416.43 631.56L419.73 634.86L416.43 638.16L413.13 634.86Z" fill="#fff" stroke="#05ab51" stroke-width="1.5"/><path d="M416.37 631.76L419.67 635.06L416.37 638.36L413.07 635.06Z" fill="#fff" stroke="#05ab51" stroke-width="1.5"/><path d="M416.32 631.93L419.62 635.23L416.32 638.53L413.02 635.23Z" fill="#fff" stroke="#05ab51" stroke-width="1.5"/><path d="M416.28 632.07L419.58 635.37L416.28 638.67L412.98 635.37Z" fill="#fff" stroke="#05ab51" stroke-width="1.5"/><path d="M416.25 632.18L419.55 635.48L416.25 638.78L412.95 635.48Z" fill="#fff" stroke="#05ab51" stroke-width="1.5"/><path d="M416.22 632.28L419.52 635.58L416.22 638.88L412.92 635.58Z" fill="#fff" stroke="#05ab51" stroke-width="1.5"/><path d="M416.2 632.35L419.5 635.65L416.2 638.95L412.9 635.65Z" fill="#fff" stroke="#05ab51" stroke-width="1.5"/><path d="M416.18 632.41L419.48 635.71L416.18 639.01L412.88 635.71Z" fill="#fff" stroke="#05ab51" stroke-width="1.5"/><path d="M416.17 632.47L419.47 635.77L416.17 639.07L412.87 635.77Z" fill="#fff" stroke="#05ab51" stroke-width="1.5"/><path d="M416.15 632.51L419.45 635.81L416.15 639.11L412.85 635.81Z" fill="#fff" stroke="#05ab51" stroke-width="1.5"/><path d="M416.14 632.54L419.44 635.84L416.14 639.14L412.84 635.84Z" fill="#fff" stroke="#05ab51" stroke-width="1.5"/><path d="M416.14 632.57L419.44 635.87L416.14 639.17L412.84 635.87Z" fill="#fff" stroke="#05ab51" stroke-width="1.5"/><path d="M416.13 632.59L419.43 635.89L416.13 639.19L412.83 635.89Z" fill="#fff" stroke="#05ab51" stroke-width="1.5"/><path d="M416.12 632.61L419.42 635.91L416.12 639.21L412.82 635.91Z" fill="#fff" stroke="#05ab51" stroke-width="1.5"/>
<text x="406.6" y="641.2" font-size="17" text-anchor="end" textLength="10.6" lengthAdjust="spacingAndGlyphs">0</text>
<text x="416.1" y="659.1" font-size="17" text-anchor="middle" textLength="10.6" lengthAdjust="spacingAndGlyphs">0</text>
<text x="406.6" y="576.87" font-size="17" text-anchor="end" textLength="10.6" lengthAdjust="spacingAndGlyphs">3</text>
<text x="503.62" y="659.1" font-size="17" text-anchor="middle" textLength="10.6" lengthAdjust="spacingAndGlyphs">3</text>
<text x="406.6" y="512.53" font-size="17" text-anchor="end" textLength="10.6" lengthAdjust="spacingAndGlyphs">6</text>
<text x="591.63" y="659.1" font-size="17" text-anchor="middle" textLength="10.6" lengthAdjust="spacingAndGlyphs">6</text>
<text x="406.6" y="448.2" font-size="17" text-anchor="end" textLength="10.6" lengthAdjust="spacingAndGlyphs">9</text>
<text x="680.15" y="659.1" font-size="17" text-anchor="middle" textLength="10.6" lengthAdjust="spacingAndGlyphs">9</text>
<text x="548.3" y="679.2" font-size="17.4" text-anchor="middle" textLength="106.6" lengthAdjust="spacingAndGlyphs">Z / 10<tspan font-size="12" dy="-7.5">8</tspan><tspan dy="7.5">Ω·cm</tspan><tspan font-size="12" dy="-7.5">2</tspan></text>
<text transform="translate(391.3 539.4) rotate(-90)" font-size="17.6" text-anchor="middle" textLength="114.6" lengthAdjust="spacingAndGlyphs">-Z” / 10<tspan font-size="12" dy="-7.5">8</tspan><tspan dy="7.5">Ω·cm</tspan><tspan font-size="12" dy="-7.5">2</tspan></text>
<rect x="433.6" y="455.6" width="4" height="4" fill="#fff" stroke="#454344" stroke-width="1.5"/>
<text x="453.2" y="462" font-size="13">0 d</text>
<circle cx="435.6" cy="473.1" r="2.7" fill="#fff" stroke="#d0245c" stroke-width="1.5"/>
<text x="453.2" y="477.5" font-size="13">1 d</text>
<path d="M435.6 485.2L438.9 491.48L432.3 491.48Z" fill="#fff" stroke="#0b70e2" stroke-width="1.5"/>
<text x="453.2" y="493" font-size="13">3 d</text>
<path d="M435.6 500.6L439.1 504.1L435.6 507.6L432.1 504.1Z" fill="#fff" stroke="#05ab51" stroke-width="1.5"/>
<text x="453.2" y="508.5" font-size="13">7 d</text>
</g>
<g id="pf">
<text x="3.2" y="712.5" font-size="27">f</text>
<path d="M186.8 760.4C187.17 760.93 188.03 762.68 189 763.6C189.97 764.52 190.32 764.77 192.6 765.9C194.88 767.03 198.08 768.18 202.7 770.4C207.32 772.62 215.28 776.05 220.3 779.2C225.32 782.35 229.85 786.58 232.8 789.3C235.75 792.02 236.68 793.47 238 795.5C239.32 797.53 240 799.08 240.7 801.5C241.4 803.92 241.83 805.25 242.2 810C242.57 814.75 242.65 823.33 242.9 830C243.15 836.67 243.45 845.03 243.7 850C243.95 854.97 244.17 859.8 244.4 859.8C244.63 859.8 244.8 854.97 245.1 850C245.4 845.03 245.85 836.67 246.2 830C246.55 823.33 246.78 814.83 247.2 810C247.62 805.17 248.08 803.5 248.7 801C249.32 798.5 249.37 797.63 250.9 795C252.43 792.37 254.63 788.1 257.9 785.2C261.17 782.3 264.22 780.07 270.5 777.6C276.78 775.13 287.35 772.22 295.6 770.4C303.85 768.58 315.93 767.32 320 766.7" fill="none" stroke="#454344" stroke-width="1.9" stroke-linejoin="round" stroke-linecap="round"/>
<path d="M113.8 800C113.83 801 113.87 804.17 114 806C114.13 807.83 113.92 809.4 114.6 811C115.28 812.6 115.42 813.87 118.1 815.6C120.78 817.33 126.1 819.18 130.7 821.4C135.3 823.62 141.52 825.77 145.7 828.9C149.88 832.03 153.28 836.63 155.8 840.2C158.32 843.77 159.43 846.17 160.8 850.3C162.17 854.43 163.17 860.53 164 865C164.83 869.47 165.23 877.6 165.8 877.1C166.37 876.6 166.7 867.1 167.4 862C168.1 856.9 168.93 850.55 170 846.5C171.07 842.45 172.13 840.22 173.8 837.7C175.47 835.18 176.45 833.28 180 831.4C183.55 829.52 188.38 828.2 195.1 826.4C201.82 824.6 212.75 822.15 220.3 820.6C227.85 819.05 235.8 817.77 240.4 817.1C245 816.43 246.65 816.68 247.9 816.6" fill="none" stroke="#d0245c" stroke-width="1.9" stroke-linejoin="round" stroke-linecap="round"/>
<path d="M111.3 803.8C111.38 804.67 111.55 807.37 111.8 809C112.05 810.63 111.75 811.75 112.8 813.6C113.85 815.45 115.55 817.77 118.1 820.1C120.65 822.43 124.33 824.67 128.1 827.6C131.87 830.53 137.13 833.92 140.7 837.7C144.27 841.48 147.4 845.7 149.5 850.3C151.6 854.9 152.3 859.87 153.3 865.3C154.3 870.73 154.85 882.78 155.5 882.9C156.15 883.02 156.57 870.98 157.2 866C157.83 861.02 158.4 856.75 159.3 853C160.2 849.25 161.22 846.17 162.6 843.5C163.98 840.83 165.53 838.88 167.6 837C169.67 835.12 170.42 833.97 175 832.2C179.58 830.43 187.55 828.08 195.1 826.4C202.65 824.72 212.75 823.23 220.3 822.1C227.85 820.97 236.43 820.35 240.4 819.6C244.37 818.85 243.48 817.93 244.1 817.6" fill="none" stroke="#0b70e2" stroke-width="1.9" stroke-linejoin="round" stroke-linecap="round"/>
<path d="M104.3 803.8C104.35 804.67 104.38 807.27 104.6 809C104.82 810.73 104.82 812.35 105.6 814.2C106.38 816.05 107.22 818.28 109.3 820.1C111.38 821.92 114.53 823 118.1 825.1C121.67 827.2 127.15 829.77 130.7 832.7C134.25 835.63 137.23 839.15 139.4 842.7C141.57 846.25 142.65 850.43 143.7 854C144.75 857.57 145.08 864.18 145.7 864.1C146.32 864.02 146.75 856.43 147.4 853.5C148.05 850.57 148.58 848.67 149.6 846.5C150.62 844.33 151.63 842.32 153.5 840.5C155.37 838.68 157.7 837.08 160.8 835.6C163.9 834.12 168.47 832.93 172.1 831.6C175.73 830.27 178.77 829.02 182.6 827.6C186.43 826.18 190.92 824.35 195.1 823.1C199.28 821.85 203.5 820.93 207.7 820.1C211.9 819.27 215.9 818.77 220.3 818.1C224.7 817.43 231.8 816.43 234.1 816.1" fill="none" stroke="#05ab51" stroke-width="1.9" stroke-linejoin="round" stroke-linecap="round"/>
<rect x="63.4" y="700" width="264.55" height="193.4" fill="none" stroke="#000" stroke-width="1.9"/>
<path d="M89.64 893.4 l0 -4.1M142.56 893.4 l0 -4.1M195.48 893.4 l0 -4.1M248.4 893.4 l0 -4.1M301.32 893.4 l0 -4.1M63.4 753.3 l4.1 0M63.4 806.5 l4.1 0M63.4 859.7 l4.1 0" fill="none" stroke="#000" stroke-width="1.8"/>
<path d="M116.1 893.4 l0 -2.3M169.02 893.4 l0 -2.3M221.94 893.4 l0 -2.3M274.86 893.4 l0 -2.3M63.4 726.7 l2.3 0M63.4 779.9 l2.3 0M63.4 833.1 l2.3 0M63.4 886.3 l2.3 0" fill="none" stroke="#000" stroke-width="1.6"/>
<text x="59.4" y="705.6" font-size="16.8" text-anchor="end" textLength="16.4" lengthAdjust="spacingAndGlyphs">-6</text>
<text x="59.4" y="758.8" font-size="16.8" text-anchor="end" textLength="16.4" lengthAdjust="spacingAndGlyphs">-8</text>
<text x="59.4" y="812" font-size="16.8" text-anchor="end" textLength="27.2" lengthAdjust="spacingAndGlyphs">-10</text>
<text x="59.4" y="865.2" font-size="16.8" text-anchor="end" textLength="27.2" lengthAdjust="spacingAndGlyphs">-12</text>
<text x="89.44" y="911.4" font-size="16.8" text-anchor="middle" textLength="31.6" lengthAdjust="spacingAndGlyphs">-0.6</text>
<text x="142.36" y="911.4" font-size="16.8" text-anchor="middle" textLength="31.6" lengthAdjust="spacingAndGlyphs">-0.4</text>
<text x="195.28" y="911.4" font-size="16.8" text-anchor="middle" textLength="31.6" lengthAdjust="spacingAndGlyphs">-0.2</text>
<text x="248.4" y="911.4" font-size="16.8" text-anchor="middle" textLength="25.4" lengthAdjust="spacingAndGlyphs">0.0</text>
<text x="301.32" y="911.4" font-size="16.8" text-anchor="middle" textLength="25.4" lengthAdjust="spacingAndGlyphs">0.2</text>
<text x="195.9" y="932.9" font-size="17.4" text-anchor="middle" textLength="169.6" lengthAdjust="spacingAndGlyphs">Potential (V vs SCE)</text>
<text transform="translate(24.3 796.3) rotate(-90)" font-size="17.6" text-anchor="middle" textLength="114.6" lengthAdjust="spacingAndGlyphs">Log I (A / cm<tspan font-size="12" dy="-7.5">2</tspan><tspan dy="7.5">)</tspan></text>
<line x1="81.2" y1="716.2" x2="109.8" y2="716.2" stroke="#454344" stroke-width="1.8"/>
<text x="113.8" y="720.6" font-size="13">0 d</text>
<line x1="81.2" y1="731.77" x2="109.8" y2="731.77" stroke="#d0245c" stroke-width="1.8"/>
<text x="113.8" y="736.17" font-size="13">1 d</text>
<line x1="81.2" y1="747.34" x2="109.8" y2="747.34" stroke="#0b70e2" stroke-width="1.8"/>
<text x="113.8" y="751.74" font-size="13">3 d</text>
<line x1="81.2" y1="762.91" x2="109.8" y2="762.91" stroke="#05ab51" stroke-width="1.8"/>
<text x="113.8" y="767.31" font-size="13">7 d</text>
</g>
<g id="pg">
<text x="346" y="706.9" font-size="27.5">g</text>
<rect x="384.5" y="700.1" width="105.5" height="202.2" fill="#ccd3de"/>
<rect x="384.5" y="700.1" width="17.5" height="202.2" fill="#cfd5dd"/>
<rect x="490" y="700.1" width="88.8" height="202.2" fill="#efb07f"/>
<rect x="578.8" y="700.1" width="100.5" height="202.2" fill="#bebebe"/>
<line x1="401" y1="902" x2="679.3" y2="902" stroke="#a9adb6" stroke-width="0.9"/>
<text x="403.3" y="731.6" font-size="18.6" textLength="83.6" lengthAdjust="spacingAndGlyphs" font-family="Liberation Serif" fill="#1c1c1c" stroke="#1c1c1c">Electrolyte</text>
<text x="505" y="731.6" font-size="18.6" textLength="60.4" lengthAdjust="spacingAndGlyphs" font-family="Liberation Serif" fill="#1c1c1c" stroke="#1c1c1c">Coating</text>
<text x="586.6" y="731.6" font-size="18.6" textLength="71.6" lengthAdjust="spacingAndGlyphs" font-family="Liberation Serif" fill="#1c1c1c" stroke="#1c1c1c">Substrate</text>
<path d="M412.6 800H440.2M481.2 800H500M500 767.2V834M500 767.2H529.3M539.4 767.2H570.8V833.6M500 834H515.1M553.8 833.6H570.8M570.8 800H597.7" fill="none" stroke="#0a0a0a" stroke-width="2.5" stroke-linecap="square"/>
<rect x="440.2" y="792.5" width="41" height="15.1" fill="none" stroke="#0a0a0a" stroke-width="2.5"/>
<rect x="515.1" y="826.4" width="38.7" height="14.4" fill="none" stroke="#0a0a0a" stroke-width="2.5"/>
<path d="M529.3 751.6V784.2M539.4 751.6V784.2" fill="none" stroke="#0a0a0a" stroke-width="2.7"/>
<text x="451.5" y="824" font-size="14.5" font-family="Liberation Serif" fill="#1c1c1c" stroke="#1c1c1c">R<tspan font-size="9.5" dy="2.5">s</tspan></text>
<text x="526" y="799.5" font-size="14.5" font-family="Liberation Serif" fill="#1c1c1c" stroke="#1c1c1c">Q<tspan font-size="9.5" dy="2.5">c</tspan></text>
<text x="528.6" y="856.7" font-size="14.5" font-family="Liberation Serif" fill="#1c1c1c" stroke="#1c1c1c">R<tspan font-size="9.5" dy="2.5">c</tspan></text>
</g>
</svg>
</body></html>
